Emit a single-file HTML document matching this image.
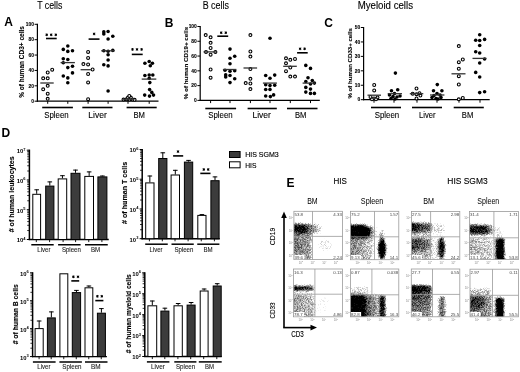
<!DOCTYPE html>
<html><head><meta charset="utf-8"><style>
html,body{margin:0;padding:0;background:#fff;}
svg{display:block;will-change:transform;}
text{font-family:"Liberation Sans", sans-serif;}
</style></head><body>
<svg width="520" height="372" viewBox="0 0 520 372">
<rect width="520" height="372" fill="#fff"/>
<text x="4.20" y="25.60" font-size="12" text-anchor="start" fill="#000" font-weight="bold" >A</text>
<text x="37.20" y="8.70" font-size="10.2" text-anchor="start" fill="#000" stroke="#000" stroke-width="0.12" textLength="25.2" lengthAdjust="spacingAndGlyphs" >T cells</text>
<line x1="37.40" y1="23.80" x2="37.40" y2="101.80" stroke="#000" stroke-width="1.2" />
<line x1="34.60" y1="24.30" x2="37.40" y2="24.30" stroke="#000" stroke-width="1.0" />
<text x="34.00" y="26.00" font-size="4.9" text-anchor="end" fill="#000" stroke="#000" stroke-width="0.1" font-weight="bold" >100</text>
<line x1="34.60" y1="39.68" x2="37.40" y2="39.68" stroke="#000" stroke-width="1.0" />
<text x="34.00" y="41.38" font-size="4.9" text-anchor="end" fill="#000" stroke="#000" stroke-width="0.1" font-weight="bold" >80</text>
<line x1="34.60" y1="55.06" x2="37.40" y2="55.06" stroke="#000" stroke-width="1.0" />
<text x="34.00" y="56.76" font-size="4.9" text-anchor="end" fill="#000" stroke="#000" stroke-width="0.1" font-weight="bold" >60</text>
<line x1="34.60" y1="70.44" x2="37.40" y2="70.44" stroke="#000" stroke-width="1.0" />
<text x="34.00" y="72.14" font-size="4.9" text-anchor="end" fill="#000" stroke="#000" stroke-width="0.1" font-weight="bold" >40</text>
<line x1="34.60" y1="85.82" x2="37.40" y2="85.82" stroke="#000" stroke-width="1.0" />
<text x="34.00" y="87.52" font-size="4.9" text-anchor="end" fill="#000" stroke="#000" stroke-width="0.1" font-weight="bold" >20</text>
<line x1="34.60" y1="101.20" x2="37.40" y2="101.20" stroke="#000" stroke-width="1.0" />
<text x="34.00" y="102.90" font-size="4.9" text-anchor="end" fill="#000" stroke="#000" stroke-width="0.1" font-weight="bold" >0</text>
<line x1="36.80" y1="101.20" x2="158.50" y2="101.20" stroke="#000" stroke-width="1.2" />
<text x="24.30" y="62.00" font-size="6.5" text-anchor="middle" fill="#000" stroke="#000" stroke-width="0.1" font-weight="bold" transform="rotate(-90 24.30 62.00)" >% of human CD3+ cells</text>
<circle cx="52.2" cy="69.7" r="1.45" fill="#fff" stroke="#000" stroke-width="1.1"/>
<circle cx="47.7" cy="72.5" r="1.45" fill="#fff" stroke="#000" stroke-width="1.1"/>
<circle cx="43.2" cy="78.3" r="1.45" fill="#fff" stroke="#000" stroke-width="1.1"/>
<circle cx="47.7" cy="78.3" r="1.45" fill="#fff" stroke="#000" stroke-width="1.1"/>
<circle cx="47.7" cy="85.8" r="1.45" fill="#fff" stroke="#000" stroke-width="1.1"/>
<circle cx="43.2" cy="89.3" r="1.45" fill="#fff" stroke="#000" stroke-width="1.1"/>
<circle cx="47.7" cy="93.7" r="1.45" fill="#fff" stroke="#000" stroke-width="1.1"/>
<circle cx="47.7" cy="98.8" r="1.45" fill="#fff" stroke="#000" stroke-width="1.1"/>
<circle cx="88.1" cy="51.9" r="1.45" fill="#fff" stroke="#000" stroke-width="1.1"/>
<circle cx="88.1" cy="57.9" r="1.45" fill="#fff" stroke="#000" stroke-width="1.1"/>
<circle cx="83.4" cy="64.1" r="1.45" fill="#fff" stroke="#000" stroke-width="1.1"/>
<circle cx="88.1" cy="64.4" r="1.45" fill="#fff" stroke="#000" stroke-width="1.1"/>
<circle cx="92.6" cy="69.5" r="1.45" fill="#fff" stroke="#000" stroke-width="1.1"/>
<circle cx="88.1" cy="74.0" r="1.45" fill="#fff" stroke="#000" stroke-width="1.1"/>
<circle cx="88.1" cy="82.4" r="1.45" fill="#fff" stroke="#000" stroke-width="1.1"/>
<circle cx="88.1" cy="99.2" r="1.45" fill="#fff" stroke="#000" stroke-width="1.1"/>
<circle cx="123.5" cy="99.6" r="1.45" fill="#fff" stroke="#000" stroke-width="1.1"/>
<circle cx="126.5" cy="99.3" r="1.45" fill="#fff" stroke="#000" stroke-width="1.1"/>
<circle cx="129.5" cy="99.6" r="1.45" fill="#fff" stroke="#000" stroke-width="1.1"/>
<circle cx="132.5" cy="99.5" r="1.45" fill="#fff" stroke="#000" stroke-width="1.1"/>
<circle cx="134.6" cy="99.8" r="1.45" fill="#fff" stroke="#000" stroke-width="1.1"/>
<circle cx="128.0" cy="97.6" r="1.45" fill="#fff" stroke="#000" stroke-width="1.1"/>
<circle cx="130.8" cy="97.6" r="1.45" fill="#fff" stroke="#000" stroke-width="1.1"/>
<circle cx="129.3" cy="95.9" r="1.45" fill="#fff" stroke="#000" stroke-width="1.1"/>
<circle cx="67.8" cy="46.0" r="1.8" fill="#000"/>
<circle cx="63.3" cy="49.4" r="1.8" fill="#000"/>
<circle cx="67.8" cy="51.4" r="1.8" fill="#000"/>
<circle cx="72.5" cy="50.8" r="1.8" fill="#000"/>
<circle cx="63.3" cy="58.8" r="1.8" fill="#000"/>
<circle cx="67.8" cy="59.5" r="1.8" fill="#000"/>
<circle cx="63.3" cy="62.8" r="1.8" fill="#000"/>
<circle cx="67.8" cy="67.6" r="1.8" fill="#000"/>
<circle cx="72.5" cy="66.2" r="1.8" fill="#000"/>
<circle cx="72.5" cy="72.9" r="1.8" fill="#000"/>
<circle cx="63.3" cy="76.0" r="1.8" fill="#000"/>
<circle cx="67.8" cy="77.9" r="1.8" fill="#000"/>
<circle cx="67.8" cy="82.7" r="1.8" fill="#000"/>
<circle cx="103.8" cy="31.9" r="1.8" fill="#000"/>
<circle cx="108.1" cy="31.5" r="1.8" fill="#000"/>
<circle cx="103.8" cy="34.0" r="1.8" fill="#000"/>
<circle cx="108.1" cy="39.0" r="1.8" fill="#000"/>
<circle cx="112.8" cy="36.2" r="1.8" fill="#000"/>
<circle cx="103.8" cy="50.8" r="1.8" fill="#000"/>
<circle cx="108.1" cy="51.2" r="1.8" fill="#000"/>
<circle cx="112.8" cy="50.4" r="1.8" fill="#000"/>
<circle cx="108.1" cy="54.7" r="1.8" fill="#000"/>
<circle cx="108.1" cy="60.0" r="1.8" fill="#000"/>
<circle cx="103.8" cy="64.8" r="1.8" fill="#000"/>
<circle cx="108.1" cy="65.9" r="1.8" fill="#000"/>
<circle cx="108.1" cy="91.0" r="1.8" fill="#000"/>
<circle cx="144.9" cy="63.2" r="1.8" fill="#000"/>
<circle cx="149.2" cy="61.5" r="1.8" fill="#000"/>
<circle cx="152.4" cy="63.2" r="1.8" fill="#000"/>
<circle cx="150.3" cy="65.8" r="1.8" fill="#000"/>
<circle cx="144.9" cy="75.5" r="1.8" fill="#000"/>
<circle cx="149.2" cy="75.0" r="1.8" fill="#000"/>
<circle cx="152.8" cy="75.0" r="1.8" fill="#000"/>
<circle cx="149.2" cy="78.3" r="1.8" fill="#000"/>
<circle cx="149.8" cy="82.6" r="1.8" fill="#000"/>
<circle cx="149.6" cy="89.6" r="1.8" fill="#000"/>
<circle cx="151.8" cy="92.4" r="1.8" fill="#000"/>
<circle cx="144.7" cy="95.1" r="1.8" fill="#000"/>
<circle cx="149.5" cy="96.1" r="1.8" fill="#000"/>
<circle cx="153.5" cy="95.1" r="1.8" fill="#000"/>
<line x1="40.30" y1="83.00" x2="53.70" y2="83.00" stroke="#333" stroke-width="1.3" />
<line x1="60.60" y1="62.60" x2="74.90" y2="62.60" stroke="#333" stroke-width="1.3" />
<line x1="80.60" y1="69.70" x2="90.90" y2="69.70" stroke="#333" stroke-width="1.3" />
<line x1="101.20" y1="50.80" x2="114.60" y2="50.80" stroke="#333" stroke-width="1.3" />
<line x1="122.50" y1="99.20" x2="134.50" y2="99.20" stroke="#333" stroke-width="1.3" />
<line x1="141.70" y1="79.10" x2="156.30" y2="79.10" stroke="#333" stroke-width="1.3" />
<path d="M46.70 33.45L46.70 36.15M45.53 34.12L47.87 35.47M47.87 34.12L45.53 35.47" stroke="#000" stroke-width="0.95" fill="none"/>
<circle cx="46.70" cy="34.80" r="0.75" fill="#000"/>
<path d="M51.20 33.45L51.20 36.15M50.03 34.12L52.37 35.47M52.37 34.12L50.03 35.47" stroke="#000" stroke-width="0.95" fill="none"/>
<circle cx="51.20" cy="34.80" r="0.75" fill="#000"/>
<path d="M55.80 33.45L55.80 36.15M54.63 34.12L56.97 35.47M56.97 34.12L54.63 35.47" stroke="#000" stroke-width="0.95" fill="none"/>
<circle cx="55.80" cy="34.80" r="0.75" fill="#000"/>
<line x1="46.00" y1="38.50" x2="56.70" y2="38.50" stroke="#000" stroke-width="1.6" />
<path d="M94.10 32.55L94.10 35.25M92.93 33.23L95.27 34.57M95.27 33.23L92.93 34.57" stroke="#000" stroke-width="0.95" fill="none"/>
<circle cx="94.10" cy="33.90" r="0.75" fill="#000"/>
<line x1="88.60" y1="39.10" x2="99.50" y2="39.10" stroke="#000" stroke-width="1.6" />
<path d="M132.50 48.05L132.50 50.75M131.33 48.73L133.67 50.07M133.67 48.73L131.33 50.07" stroke="#000" stroke-width="0.95" fill="none"/>
<circle cx="132.50" cy="49.40" r="0.75" fill="#000"/>
<path d="M137.00 48.05L137.00 50.75M135.83 48.73L138.17 50.07M138.17 48.73L135.83 50.07" stroke="#000" stroke-width="0.95" fill="none"/>
<circle cx="137.00" cy="49.40" r="0.75" fill="#000"/>
<path d="M141.60 48.05L141.60 50.75M140.43 48.73L142.77 50.07M142.77 48.73L140.43 50.07" stroke="#000" stroke-width="0.95" fill="none"/>
<circle cx="141.60" cy="49.40" r="0.75" fill="#000"/>
<line x1="131.80" y1="54.40" x2="142.70" y2="54.40" stroke="#000" stroke-width="1.6" />
<line x1="47.70" y1="101.10" x2="47.70" y2="103.80" stroke="#000" stroke-width="1.0" />
<line x1="67.80" y1="101.10" x2="67.80" y2="103.80" stroke="#000" stroke-width="1.0" />
<line x1="88.10" y1="101.10" x2="88.10" y2="103.80" stroke="#000" stroke-width="1.0" />
<line x1="108.10" y1="101.10" x2="108.10" y2="103.80" stroke="#000" stroke-width="1.0" />
<line x1="128.00" y1="101.10" x2="128.00" y2="103.80" stroke="#000" stroke-width="1.0" />
<line x1="149.20" y1="101.10" x2="149.20" y2="103.80" stroke="#000" stroke-width="1.0" />
<line x1="42.20" y1="107.50" x2="72.90" y2="107.50" stroke="#000" stroke-width="1.6" />
<line x1="82.30" y1="107.50" x2="112.50" y2="107.50" stroke="#000" stroke-width="1.6" />
<line x1="126.60" y1="107.50" x2="156.70" y2="107.50" stroke="#000" stroke-width="1.6" />
<text x="56.50" y="117.50" font-size="8.2" text-anchor="middle" fill="#000" stroke="#000" stroke-width="0.1" textLength="24.5" lengthAdjust="spacingAndGlyphs" >Spleen</text>
<text x="97.50" y="117.50" font-size="8.2" text-anchor="middle" fill="#000" stroke="#000" stroke-width="0.1" textLength="18.5" lengthAdjust="spacingAndGlyphs" >Liver</text>
<text x="139.20" y="117.50" font-size="8.2" text-anchor="middle" fill="#000" stroke="#000" stroke-width="0.1" textLength="11.5" lengthAdjust="spacingAndGlyphs" >BM</text>
<text x="164.80" y="26.70" font-size="12" text-anchor="start" fill="#000" font-weight="bold" >B</text>
<text x="202.70" y="9.00" font-size="10.2" text-anchor="start" fill="#000" stroke="#000" stroke-width="0.12" textLength="26.3" lengthAdjust="spacingAndGlyphs" >B cells</text>
<line x1="200.20" y1="26.00" x2="200.20" y2="101.00" stroke="#000" stroke-width="1.2" />
<line x1="197.40" y1="26.50" x2="200.20" y2="26.50" stroke="#000" stroke-width="1.0" />
<text x="196.80" y="28.20" font-size="4.9" text-anchor="end" fill="#000" stroke="#000" stroke-width="0.1" font-weight="bold" >100</text>
<line x1="197.40" y1="41.28" x2="200.20" y2="41.28" stroke="#000" stroke-width="1.0" />
<text x="196.80" y="42.98" font-size="4.9" text-anchor="end" fill="#000" stroke="#000" stroke-width="0.1" font-weight="bold" >80</text>
<line x1="197.40" y1="56.06" x2="200.20" y2="56.06" stroke="#000" stroke-width="1.0" />
<text x="196.80" y="57.76" font-size="4.9" text-anchor="end" fill="#000" stroke="#000" stroke-width="0.1" font-weight="bold" >60</text>
<line x1="197.40" y1="70.84" x2="200.20" y2="70.84" stroke="#000" stroke-width="1.0" />
<text x="196.80" y="72.54" font-size="4.9" text-anchor="end" fill="#000" stroke="#000" stroke-width="0.1" font-weight="bold" >40</text>
<line x1="197.40" y1="85.62" x2="200.20" y2="85.62" stroke="#000" stroke-width="1.0" />
<text x="196.80" y="87.32" font-size="4.9" text-anchor="end" fill="#000" stroke="#000" stroke-width="0.1" font-weight="bold" >20</text>
<line x1="197.40" y1="100.40" x2="200.20" y2="100.40" stroke="#000" stroke-width="1.0" />
<text x="196.80" y="102.10" font-size="4.9" text-anchor="end" fill="#000" stroke="#000" stroke-width="0.1" font-weight="bold" >0</text>
<line x1="199.60" y1="100.40" x2="319.80" y2="100.40" stroke="#000" stroke-width="1.2" />
<text x="187.80" y="63.00" font-size="6.25" text-anchor="middle" fill="#000" stroke="#000" stroke-width="0.1" font-weight="bold" transform="rotate(-90 187.80 63.00)" >% of human CD19+ cells</text>
<circle cx="205.7" cy="35.1" r="1.45" fill="#fff" stroke="#000" stroke-width="1.1"/>
<circle cx="210.6" cy="37.3" r="1.45" fill="#fff" stroke="#000" stroke-width="1.1"/>
<circle cx="210.6" cy="42.8" r="1.45" fill="#fff" stroke="#000" stroke-width="1.1"/>
<circle cx="210.6" cy="48.0" r="1.45" fill="#fff" stroke="#000" stroke-width="1.1"/>
<circle cx="215.4" cy="51.9" r="1.45" fill="#fff" stroke="#000" stroke-width="1.1"/>
<circle cx="206.0" cy="51.9" r="1.45" fill="#fff" stroke="#000" stroke-width="1.1"/>
<circle cx="210.6" cy="54.7" r="1.45" fill="#fff" stroke="#000" stroke-width="1.1"/>
<circle cx="210.6" cy="69.5" r="1.45" fill="#fff" stroke="#000" stroke-width="1.1"/>
<circle cx="210.6" cy="77.7" r="1.45" fill="#fff" stroke="#000" stroke-width="1.1"/>
<circle cx="250.4" cy="35.1" r="1.45" fill="#fff" stroke="#000" stroke-width="1.1"/>
<circle cx="250.4" cy="51.5" r="1.45" fill="#fff" stroke="#000" stroke-width="1.1"/>
<circle cx="250.4" cy="56.6" r="1.45" fill="#fff" stroke="#000" stroke-width="1.1"/>
<circle cx="250.4" cy="69.1" r="1.45" fill="#fff" stroke="#000" stroke-width="1.1"/>
<circle cx="250.4" cy="78.8" r="1.45" fill="#fff" stroke="#000" stroke-width="1.1"/>
<circle cx="245.7" cy="83.1" r="1.45" fill="#fff" stroke="#000" stroke-width="1.1"/>
<circle cx="250.4" cy="83.5" r="1.45" fill="#fff" stroke="#000" stroke-width="1.1"/>
<circle cx="250.4" cy="89.1" r="1.45" fill="#fff" stroke="#000" stroke-width="1.1"/>
<circle cx="286.0" cy="58.3" r="1.45" fill="#fff" stroke="#000" stroke-width="1.1"/>
<circle cx="290.3" cy="59.8" r="1.45" fill="#fff" stroke="#000" stroke-width="1.1"/>
<circle cx="295.0" cy="59.0" r="1.45" fill="#fff" stroke="#000" stroke-width="1.1"/>
<circle cx="286.0" cy="63.3" r="1.45" fill="#fff" stroke="#000" stroke-width="1.1"/>
<circle cx="290.3" cy="67.6" r="1.45" fill="#fff" stroke="#000" stroke-width="1.1"/>
<circle cx="286.0" cy="71.2" r="1.45" fill="#fff" stroke="#000" stroke-width="1.1"/>
<circle cx="290.3" cy="76.6" r="1.45" fill="#fff" stroke="#000" stroke-width="1.1"/>
<circle cx="295.0" cy="76.6" r="1.45" fill="#fff" stroke="#000" stroke-width="1.1"/>
<circle cx="230.0" cy="49.1" r="1.8" fill="#000"/>
<circle cx="230.0" cy="58.3" r="1.8" fill="#000"/>
<circle cx="234.7" cy="56.2" r="1.8" fill="#000"/>
<circle cx="230.0" cy="63.7" r="1.8" fill="#000"/>
<circle cx="225.0" cy="70.2" r="1.8" fill="#000"/>
<circle cx="230.0" cy="71.2" r="1.8" fill="#000"/>
<circle cx="234.7" cy="70.8" r="1.8" fill="#000"/>
<circle cx="225.7" cy="74.9" r="1.8" fill="#000"/>
<circle cx="230.0" cy="75.5" r="1.8" fill="#000"/>
<circle cx="234.7" cy="78.8" r="1.8" fill="#000"/>
<circle cx="230.0" cy="82.6" r="1.8" fill="#000"/>
<circle cx="225.7" cy="77.0" r="1.8" fill="#000"/>
<circle cx="270.0" cy="38.3" r="1.8" fill="#000"/>
<circle cx="265.7" cy="75.5" r="1.8" fill="#000"/>
<circle cx="274.7" cy="75.1" r="1.8" fill="#000"/>
<circle cx="270.0" cy="78.3" r="1.8" fill="#000"/>
<circle cx="265.7" cy="84.8" r="1.8" fill="#000"/>
<circle cx="270.0" cy="85.6" r="1.8" fill="#000"/>
<circle cx="274.7" cy="85.2" r="1.8" fill="#000"/>
<circle cx="265.7" cy="89.5" r="1.8" fill="#000"/>
<circle cx="270.0" cy="89.5" r="1.8" fill="#000"/>
<circle cx="265.7" cy="96.0" r="1.8" fill="#000"/>
<circle cx="270.4" cy="96.6" r="1.8" fill="#000"/>
<circle cx="273.6" cy="94.9" r="1.8" fill="#000"/>
<circle cx="305.8" cy="65.4" r="1.8" fill="#000"/>
<circle cx="310.5" cy="68.4" r="1.8" fill="#000"/>
<circle cx="308.0" cy="77.7" r="1.8" fill="#000"/>
<circle cx="312.3" cy="80.5" r="1.8" fill="#000"/>
<circle cx="314.4" cy="83.1" r="1.8" fill="#000"/>
<circle cx="305.8" cy="87.4" r="1.8" fill="#000"/>
<circle cx="310.5" cy="89.1" r="1.8" fill="#000"/>
<circle cx="305.8" cy="92.1" r="1.8" fill="#000"/>
<circle cx="310.5" cy="93.4" r="1.8" fill="#000"/>
<circle cx="314.4" cy="93.4" r="1.8" fill="#000"/>
<circle cx="310.5" cy="84.0" r="1.8" fill="#000"/>
<circle cx="305.8" cy="81.5" r="1.8" fill="#000"/>
<line x1="203.50" y1="51.90" x2="216.40" y2="51.90" stroke="#333" stroke-width="1.3" />
<line x1="222.90" y1="69.50" x2="236.40" y2="69.50" stroke="#333" stroke-width="1.3" />
<line x1="243.50" y1="68.00" x2="257.10" y2="68.00" stroke="#333" stroke-width="1.3" />
<line x1="262.90" y1="83.10" x2="276.90" y2="83.10" stroke="#333" stroke-width="1.3" />
<line x1="283.20" y1="66.30" x2="296.80" y2="66.30" stroke="#333" stroke-width="1.3" />
<line x1="302.60" y1="83.10" x2="315.50" y2="83.10" stroke="#333" stroke-width="1.3" />
<path d="M221.20 31.35L221.20 34.05M220.03 32.03L222.37 33.38M222.37 32.03L220.03 33.38" stroke="#000" stroke-width="0.95" fill="none"/>
<circle cx="221.20" cy="32.70" r="0.75" fill="#000"/>
<path d="M225.80 31.35L225.80 34.05M224.63 32.03L226.97 33.38M226.97 32.03L224.63 33.38" stroke="#000" stroke-width="0.95" fill="none"/>
<circle cx="225.80" cy="32.70" r="0.75" fill="#000"/>
<line x1="217.30" y1="36.20" x2="228.20" y2="36.20" stroke="#000" stroke-width="1.6" />
<path d="M300.10 47.45L300.10 50.15M298.93 48.12L301.27 49.47M301.27 48.12L298.93 49.47" stroke="#000" stroke-width="0.95" fill="none"/>
<circle cx="300.10" cy="48.80" r="0.75" fill="#000"/>
<path d="M304.60 47.45L304.60 50.15M303.43 48.12L305.77 49.47M305.77 48.12L303.43 49.47" stroke="#000" stroke-width="0.95" fill="none"/>
<circle cx="304.60" cy="48.80" r="0.75" fill="#000"/>
<line x1="297.10" y1="52.80" x2="307.70" y2="52.80" stroke="#000" stroke-width="1.6" />
<line x1="210.60" y1="100.40" x2="210.60" y2="103.10" stroke="#000" stroke-width="1.0" />
<line x1="230.00" y1="100.40" x2="230.00" y2="103.10" stroke="#000" stroke-width="1.0" />
<line x1="250.40" y1="100.40" x2="250.40" y2="103.10" stroke="#000" stroke-width="1.0" />
<line x1="270.00" y1="100.40" x2="270.00" y2="103.10" stroke="#000" stroke-width="1.0" />
<line x1="290.30" y1="100.40" x2="290.30" y2="103.10" stroke="#000" stroke-width="1.0" />
<line x1="310.50" y1="100.40" x2="310.50" y2="103.10" stroke="#000" stroke-width="1.0" />
<line x1="205.30" y1="108.50" x2="236.10" y2="108.50" stroke="#000" stroke-width="1.6" />
<line x1="247.60" y1="108.50" x2="276.80" y2="108.50" stroke="#000" stroke-width="1.6" />
<line x1="287.00" y1="108.50" x2="317.50" y2="108.50" stroke="#000" stroke-width="1.6" />
<text x="220.50" y="117.50" font-size="8.2" text-anchor="middle" fill="#000" stroke="#000" stroke-width="0.1" textLength="24.5" lengthAdjust="spacingAndGlyphs" >Spleen</text>
<text x="261.70" y="117.50" font-size="8.2" text-anchor="middle" fill="#000" stroke="#000" stroke-width="0.1" textLength="18.5" lengthAdjust="spacingAndGlyphs" >Liver</text>
<text x="300.70" y="117.50" font-size="8.2" text-anchor="middle" fill="#000" stroke="#000" stroke-width="0.1" textLength="11.5" lengthAdjust="spacingAndGlyphs" >BM</text>
<text x="324.30" y="26.60" font-size="12" text-anchor="start" fill="#000" font-weight="bold" >C</text>
<text x="357.70" y="8.80" font-size="10.0" text-anchor="start" fill="#000" stroke="#000" stroke-width="0.12" textLength="55.3" lengthAdjust="spacingAndGlyphs" >Myeloid cells</text>
<line x1="363.60" y1="27.00" x2="363.60" y2="100.30" stroke="#000" stroke-width="1.2" />
<line x1="360.80" y1="27.50" x2="363.60" y2="27.50" stroke="#000" stroke-width="1.0" />
<text x="360.20" y="29.20" font-size="4.9" text-anchor="end" fill="#000" stroke="#000" stroke-width="0.1" font-weight="bold" >50</text>
<line x1="360.80" y1="41.94" x2="363.60" y2="41.94" stroke="#000" stroke-width="1.0" />
<text x="360.20" y="43.64" font-size="4.9" text-anchor="end" fill="#000" stroke="#000" stroke-width="0.1" font-weight="bold" >40</text>
<line x1="360.80" y1="56.38" x2="363.60" y2="56.38" stroke="#000" stroke-width="1.0" />
<text x="360.20" y="58.08" font-size="4.9" text-anchor="end" fill="#000" stroke="#000" stroke-width="0.1" font-weight="bold" >30</text>
<line x1="360.80" y1="70.82" x2="363.60" y2="70.82" stroke="#000" stroke-width="1.0" />
<text x="360.20" y="72.52" font-size="4.9" text-anchor="end" fill="#000" stroke="#000" stroke-width="0.1" font-weight="bold" >20</text>
<line x1="360.80" y1="85.26" x2="363.60" y2="85.26" stroke="#000" stroke-width="1.0" />
<text x="360.20" y="86.96" font-size="4.9" text-anchor="end" fill="#000" stroke="#000" stroke-width="0.1" font-weight="bold" >10</text>
<line x1="360.80" y1="99.70" x2="363.60" y2="99.70" stroke="#000" stroke-width="1.0" />
<text x="360.20" y="101.40" font-size="4.9" text-anchor="end" fill="#000" stroke="#000" stroke-width="0.1" font-weight="bold" >0</text>
<line x1="363.00" y1="99.70" x2="489.70" y2="99.70" stroke="#000" stroke-width="1.2" />
<text x="351.70" y="63.30" font-size="6.1" text-anchor="middle" fill="#000" stroke="#000" stroke-width="0.1" font-weight="bold" transform="rotate(-90 351.70 63.30)" >% of human CD33+ cells</text>
<circle cx="374.2" cy="85.0" r="1.45" fill="#fff" stroke="#000" stroke-width="1.1"/>
<circle cx="374.2" cy="90.4" r="1.45" fill="#fff" stroke="#000" stroke-width="1.1"/>
<circle cx="370.5" cy="97.0" r="1.45" fill="#fff" stroke="#000" stroke-width="1.1"/>
<circle cx="374.0" cy="98.5" r="1.45" fill="#fff" stroke="#000" stroke-width="1.1"/>
<circle cx="377.5" cy="97.5" r="1.45" fill="#fff" stroke="#000" stroke-width="1.1"/>
<circle cx="372.0" cy="99.3" r="1.45" fill="#fff" stroke="#000" stroke-width="1.1"/>
<circle cx="376.0" cy="99.3" r="1.45" fill="#fff" stroke="#000" stroke-width="1.1"/>
<circle cx="416.5" cy="88.5" r="1.45" fill="#fff" stroke="#000" stroke-width="1.1"/>
<circle cx="412.7" cy="93.7" r="1.45" fill="#fff" stroke="#000" stroke-width="1.1"/>
<circle cx="416.5" cy="94.2" r="1.45" fill="#fff" stroke="#000" stroke-width="1.1"/>
<circle cx="420.4" cy="95.6" r="1.45" fill="#fff" stroke="#000" stroke-width="1.1"/>
<circle cx="416.5" cy="98.5" r="1.45" fill="#fff" stroke="#000" stroke-width="1.1"/>
<circle cx="419.5" cy="93.2" r="1.45" fill="#fff" stroke="#000" stroke-width="1.1"/>
<circle cx="458.8" cy="46.1" r="1.45" fill="#fff" stroke="#000" stroke-width="1.1"/>
<circle cx="462.8" cy="59.5" r="1.45" fill="#fff" stroke="#000" stroke-width="1.1"/>
<circle cx="458.8" cy="62.2" r="1.45" fill="#fff" stroke="#000" stroke-width="1.1"/>
<circle cx="458.8" cy="68.7" r="1.45" fill="#fff" stroke="#000" stroke-width="1.1"/>
<circle cx="458.8" cy="76.2" r="1.45" fill="#fff" stroke="#000" stroke-width="1.1"/>
<circle cx="458.8" cy="84.5" r="1.45" fill="#fff" stroke="#000" stroke-width="1.1"/>
<circle cx="462.8" cy="98.0" r="1.45" fill="#fff" stroke="#000" stroke-width="1.1"/>
<circle cx="458.8" cy="99.3" r="1.45" fill="#fff" stroke="#000" stroke-width="1.1"/>
<circle cx="395.4" cy="73.1" r="1.8" fill="#000"/>
<circle cx="391.5" cy="90.8" r="1.8" fill="#000"/>
<circle cx="397.7" cy="89.8" r="1.8" fill="#000"/>
<circle cx="394.5" cy="93.5" r="1.8" fill="#000"/>
<circle cx="389.5" cy="95.0" r="1.8" fill="#000"/>
<circle cx="393.0" cy="96.5" r="1.8" fill="#000"/>
<circle cx="397.0" cy="97.0" r="1.8" fill="#000"/>
<circle cx="400.0" cy="96.0" r="1.8" fill="#000"/>
<circle cx="391.0" cy="98.5" r="1.8" fill="#000"/>
<circle cx="395.0" cy="99.0" r="1.8" fill="#000"/>
<circle cx="437.3" cy="84.6" r="1.8" fill="#000"/>
<circle cx="433.5" cy="90.8" r="1.8" fill="#000"/>
<circle cx="441.9" cy="90.8" r="1.8" fill="#000"/>
<circle cx="437.0" cy="93.5" r="1.8" fill="#000"/>
<circle cx="434.0" cy="95.5" r="1.8" fill="#000"/>
<circle cx="440.0" cy="95.0" r="1.8" fill="#000"/>
<circle cx="432.0" cy="97.5" r="1.8" fill="#000"/>
<circle cx="436.0" cy="98.5" r="1.8" fill="#000"/>
<circle cx="441.0" cy="97.5" r="1.8" fill="#000"/>
<circle cx="438.0" cy="99.0" r="1.8" fill="#000"/>
<circle cx="479.7" cy="34.8" r="1.8" fill="#000"/>
<circle cx="475.7" cy="40.2" r="1.8" fill="#000"/>
<circle cx="479.7" cy="40.5" r="1.8" fill="#000"/>
<circle cx="484.6" cy="39.4" r="1.8" fill="#000"/>
<circle cx="479.7" cy="45.5" r="1.8" fill="#000"/>
<circle cx="475.7" cy="51.7" r="1.8" fill="#000"/>
<circle cx="479.7" cy="53.0" r="1.8" fill="#000"/>
<circle cx="484.6" cy="59.0" r="1.8" fill="#000"/>
<circle cx="479.7" cy="63.0" r="1.8" fill="#000"/>
<circle cx="475.7" cy="72.4" r="1.8" fill="#000"/>
<circle cx="479.7" cy="77.0" r="1.8" fill="#000"/>
<circle cx="479.7" cy="92.6" r="1.8" fill="#000"/>
<circle cx="484.6" cy="91.8" r="1.8" fill="#000"/>
<line x1="367.50" y1="95.20" x2="381.00" y2="95.20" stroke="#333" stroke-width="1.3" />
<line x1="387.70" y1="93.70" x2="402.00" y2="93.70" stroke="#333" stroke-width="1.3" />
<line x1="409.80" y1="93.70" x2="423.30" y2="93.70" stroke="#333" stroke-width="1.3" />
<line x1="430.00" y1="95.00" x2="444.40" y2="95.00" stroke="#333" stroke-width="1.3" />
<line x1="451.50" y1="73.80" x2="465.50" y2="73.80" stroke="#333" stroke-width="1.3" />
<line x1="472.50" y1="58.40" x2="486.50" y2="58.40" stroke="#333" stroke-width="1.3" />
<line x1="374.00" y1="100.00" x2="374.00" y2="102.70" stroke="#000" stroke-width="1.0" />
<line x1="394.00" y1="100.00" x2="394.00" y2="102.70" stroke="#000" stroke-width="1.0" />
<line x1="417.00" y1="100.00" x2="417.00" y2="102.70" stroke="#000" stroke-width="1.0" />
<line x1="437.00" y1="100.00" x2="437.00" y2="102.70" stroke="#000" stroke-width="1.0" />
<line x1="459.00" y1="100.00" x2="459.00" y2="102.70" stroke="#000" stroke-width="1.0" />
<line x1="480.00" y1="100.00" x2="480.00" y2="102.70" stroke="#000" stroke-width="1.0" />
<line x1="371.00" y1="107.50" x2="401.00" y2="107.50" stroke="#000" stroke-width="1.6" />
<line x1="412.00" y1="107.50" x2="442.00" y2="107.50" stroke="#000" stroke-width="1.6" />
<line x1="453.70" y1="107.50" x2="483.80" y2="107.50" stroke="#000" stroke-width="1.6" />
<text x="387.00" y="117.50" font-size="8.2" text-anchor="middle" fill="#000" stroke="#000" stroke-width="0.1" textLength="24.5" lengthAdjust="spacingAndGlyphs" >Spleen</text>
<text x="427.30" y="117.50" font-size="8.2" text-anchor="middle" fill="#000" stroke="#000" stroke-width="0.1" textLength="16.5" lengthAdjust="spacingAndGlyphs" >Liver</text>
<text x="467.60" y="117.50" font-size="8.2" text-anchor="middle" fill="#000" stroke="#000" stroke-width="0.1" textLength="11.5" lengthAdjust="spacingAndGlyphs" >BM</text>
<text x="1.40" y="137.00" font-size="12" text-anchor="start" fill="#000" font-weight="bold" >D</text>
<line x1="29.40" y1="149.60" x2="29.40" y2="240.10" stroke="#000" stroke-width="1.5" />
<line x1="27.20" y1="171.01" x2="29.40" y2="171.01" stroke="#000" stroke-width="0.8" />
<line x1="27.20" y1="165.76" x2="29.40" y2="165.76" stroke="#000" stroke-width="0.8" />
<line x1="27.20" y1="162.05" x2="29.40" y2="162.05" stroke="#000" stroke-width="0.8" />
<line x1="27.20" y1="159.16" x2="29.40" y2="159.16" stroke="#000" stroke-width="0.8" />
<line x1="27.20" y1="156.80" x2="29.40" y2="156.80" stroke="#000" stroke-width="0.8" />
<line x1="27.20" y1="154.81" x2="29.40" y2="154.81" stroke="#000" stroke-width="0.8" />
<line x1="27.20" y1="153.08" x2="29.40" y2="153.08" stroke="#000" stroke-width="0.8" />
<line x1="27.20" y1="151.56" x2="29.40" y2="151.56" stroke="#000" stroke-width="0.8" />
<line x1="27.20" y1="200.77" x2="29.40" y2="200.77" stroke="#000" stroke-width="0.8" />
<line x1="27.20" y1="195.53" x2="29.40" y2="195.53" stroke="#000" stroke-width="0.8" />
<line x1="27.20" y1="191.81" x2="29.40" y2="191.81" stroke="#000" stroke-width="0.8" />
<line x1="27.20" y1="188.93" x2="29.40" y2="188.93" stroke="#000" stroke-width="0.8" />
<line x1="27.20" y1="186.57" x2="29.40" y2="186.57" stroke="#000" stroke-width="0.8" />
<line x1="27.20" y1="184.58" x2="29.40" y2="184.58" stroke="#000" stroke-width="0.8" />
<line x1="27.20" y1="182.85" x2="29.40" y2="182.85" stroke="#000" stroke-width="0.8" />
<line x1="27.20" y1="181.33" x2="29.40" y2="181.33" stroke="#000" stroke-width="0.8" />
<line x1="27.20" y1="230.54" x2="29.40" y2="230.54" stroke="#000" stroke-width="0.8" />
<line x1="27.20" y1="225.30" x2="29.40" y2="225.30" stroke="#000" stroke-width="0.8" />
<line x1="27.20" y1="221.58" x2="29.40" y2="221.58" stroke="#000" stroke-width="0.8" />
<line x1="27.20" y1="218.69" x2="29.40" y2="218.69" stroke="#000" stroke-width="0.8" />
<line x1="27.20" y1="216.34" x2="29.40" y2="216.34" stroke="#000" stroke-width="0.8" />
<line x1="27.20" y1="214.34" x2="29.40" y2="214.34" stroke="#000" stroke-width="0.8" />
<line x1="27.20" y1="212.62" x2="29.40" y2="212.62" stroke="#000" stroke-width="0.8" />
<line x1="27.20" y1="211.10" x2="29.40" y2="211.10" stroke="#000" stroke-width="0.8" />
<line x1="26.80" y1="150.20" x2="29.40" y2="150.20" stroke="#000" stroke-width="1.0" />
<text x="25.60" y="153.10" font-size="5.9" text-anchor="end" fill="#000" font-weight="bold" >10<tspan font-size="4.0" dy="-2.4">7</tspan></text>
<line x1="26.80" y1="179.97" x2="29.40" y2="179.97" stroke="#000" stroke-width="1.0" />
<text x="25.60" y="182.87" font-size="5.9" text-anchor="end" fill="#000" font-weight="bold" >10<tspan font-size="4.0" dy="-2.4">6</tspan></text>
<line x1="26.80" y1="209.73" x2="29.40" y2="209.73" stroke="#000" stroke-width="1.0" />
<text x="25.60" y="212.63" font-size="5.9" text-anchor="end" fill="#000" font-weight="bold" >10<tspan font-size="4.0" dy="-2.4">5</tspan></text>
<line x1="26.80" y1="239.50" x2="29.40" y2="239.50" stroke="#000" stroke-width="1.0" />
<text x="25.60" y="242.40" font-size="5.9" text-anchor="end" fill="#000" font-weight="bold" >10<tspan font-size="4.0" dy="-2.4">4</tspan></text>
<line x1="28.70" y1="239.50" x2="108.75" y2="239.50" stroke="#000" stroke-width="1.4" />
<line x1="36.70" y1="189.40" x2="36.70" y2="193.80" stroke="#000" stroke-width="1.0" />
<line x1="34.40" y1="189.80" x2="39.00" y2="189.80" stroke="#000" stroke-width="1.0" />
<rect x="32.80" y="194.30" width="7.80" height="45.20" fill="#fff" stroke="#000" stroke-width="1.0" />
<line x1="49.80" y1="181.50" x2="49.80" y2="185.60" stroke="#000" stroke-width="1.0" />
<line x1="47.50" y1="181.90" x2="52.10" y2="181.90" stroke="#000" stroke-width="1.0" />
<rect x="45.70" y="186.10" width="8.20" height="53.40" fill="#3c3c3c" stroke="#000" stroke-width="1.0" />
<line x1="62.45" y1="175.30" x2="62.45" y2="178.40" stroke="#000" stroke-width="1.0" />
<line x1="60.15" y1="175.70" x2="64.75" y2="175.70" stroke="#000" stroke-width="1.0" />
<rect x="58.20" y="178.90" width="8.50" height="60.60" fill="#fff" stroke="#000" stroke-width="1.0" />
<line x1="75.50" y1="169.70" x2="75.50" y2="172.80" stroke="#000" stroke-width="1.0" />
<line x1="73.20" y1="170.10" x2="77.80" y2="170.10" stroke="#000" stroke-width="1.0" />
<rect x="71.00" y="173.30" width="9.00" height="66.20" fill="#3c3c3c" stroke="#000" stroke-width="1.0" />
<line x1="89.15" y1="171.50" x2="89.15" y2="175.90" stroke="#000" stroke-width="1.0" />
<line x1="86.85" y1="171.90" x2="91.45" y2="171.90" stroke="#000" stroke-width="1.0" />
<rect x="84.80" y="176.40" width="8.70" height="63.10" fill="#fff" stroke="#000" stroke-width="1.0" />
<line x1="102.40" y1="175.60" x2="102.40" y2="176.40" stroke="#000" stroke-width="1.0" />
<line x1="100.10" y1="176.00" x2="104.70" y2="176.00" stroke="#000" stroke-width="1.0" />
<rect x="97.90" y="176.90" width="9.00" height="62.60" fill="#3c3c3c" stroke="#000" stroke-width="1.0" />
<line x1="36.30" y1="239.50" x2="36.30" y2="242.10" stroke="#000" stroke-width="0.9" />
<line x1="49.60" y1="239.50" x2="49.60" y2="242.10" stroke="#000" stroke-width="0.9" />
<line x1="63.10" y1="239.50" x2="63.10" y2="242.10" stroke="#000" stroke-width="0.9" />
<line x1="75.60" y1="239.50" x2="75.60" y2="242.10" stroke="#000" stroke-width="0.9" />
<line x1="88.75" y1="239.50" x2="88.75" y2="242.10" stroke="#000" stroke-width="0.9" />
<line x1="101.90" y1="239.50" x2="101.90" y2="242.10" stroke="#000" stroke-width="0.9" />
<text x="14.20" y="194.30" font-size="7.1" text-anchor="middle" fill="#000" stroke="#000" stroke-width="0.12" font-weight="bold" textLength="76" lengthAdjust="spacingAndGlyphs" transform="rotate(-90 14.20 194.30)" ># of human leukocytes</text>
<line x1="31.30" y1="244.75" x2="53.70" y2="244.75" stroke="#000" stroke-width="1.5" />
<line x1="58.10" y1="244.75" x2="80.60" y2="244.75" stroke="#000" stroke-width="1.5" />
<line x1="85.00" y1="244.75" x2="107.75" y2="244.75" stroke="#000" stroke-width="1.5" />
<text x="43.85" y="251.60" font-size="6.8" text-anchor="middle" fill="#222" stroke="#222" stroke-width="0.1" textLength="13.1" lengthAdjust="spacingAndGlyphs" >Liver</text>
<text x="71.38" y="251.60" font-size="6.8" text-anchor="middle" fill="#222" stroke="#222" stroke-width="0.1" textLength="18.95" lengthAdjust="spacingAndGlyphs" >Spleen</text>
<text x="95.60" y="251.60" font-size="6.8" text-anchor="middle" fill="#222" stroke="#222" stroke-width="0.1" textLength="9.2" lengthAdjust="spacingAndGlyphs" >BM</text>
<line x1="142.20" y1="148.90" x2="142.20" y2="239.30" stroke="#000" stroke-width="1.5" />
<line x1="140.00" y1="170.28" x2="142.20" y2="170.28" stroke="#000" stroke-width="0.8" />
<line x1="140.00" y1="165.05" x2="142.20" y2="165.05" stroke="#000" stroke-width="0.8" />
<line x1="140.00" y1="161.33" x2="142.20" y2="161.33" stroke="#000" stroke-width="0.8" />
<line x1="140.00" y1="158.45" x2="142.20" y2="158.45" stroke="#000" stroke-width="0.8" />
<line x1="140.00" y1="156.10" x2="142.20" y2="156.10" stroke="#000" stroke-width="0.8" />
<line x1="140.00" y1="154.11" x2="142.20" y2="154.11" stroke="#000" stroke-width="0.8" />
<line x1="140.00" y1="152.38" x2="142.20" y2="152.38" stroke="#000" stroke-width="0.8" />
<line x1="140.00" y1="150.86" x2="142.20" y2="150.86" stroke="#000" stroke-width="0.8" />
<line x1="140.00" y1="200.02" x2="142.20" y2="200.02" stroke="#000" stroke-width="0.8" />
<line x1="140.00" y1="194.78" x2="142.20" y2="194.78" stroke="#000" stroke-width="0.8" />
<line x1="140.00" y1="191.07" x2="142.20" y2="191.07" stroke="#000" stroke-width="0.8" />
<line x1="140.00" y1="188.18" x2="142.20" y2="188.18" stroke="#000" stroke-width="0.8" />
<line x1="140.00" y1="185.83" x2="142.20" y2="185.83" stroke="#000" stroke-width="0.8" />
<line x1="140.00" y1="183.84" x2="142.20" y2="183.84" stroke="#000" stroke-width="0.8" />
<line x1="140.00" y1="182.11" x2="142.20" y2="182.11" stroke="#000" stroke-width="0.8" />
<line x1="140.00" y1="180.59" x2="142.20" y2="180.59" stroke="#000" stroke-width="0.8" />
<line x1="140.00" y1="229.75" x2="142.20" y2="229.75" stroke="#000" stroke-width="0.8" />
<line x1="140.00" y1="224.51" x2="142.20" y2="224.51" stroke="#000" stroke-width="0.8" />
<line x1="140.00" y1="220.80" x2="142.20" y2="220.80" stroke="#000" stroke-width="0.8" />
<line x1="140.00" y1="217.92" x2="142.20" y2="217.92" stroke="#000" stroke-width="0.8" />
<line x1="140.00" y1="215.56" x2="142.20" y2="215.56" stroke="#000" stroke-width="0.8" />
<line x1="140.00" y1="213.57" x2="142.20" y2="213.57" stroke="#000" stroke-width="0.8" />
<line x1="140.00" y1="211.85" x2="142.20" y2="211.85" stroke="#000" stroke-width="0.8" />
<line x1="140.00" y1="210.33" x2="142.20" y2="210.33" stroke="#000" stroke-width="0.8" />
<line x1="139.60" y1="149.50" x2="142.20" y2="149.50" stroke="#000" stroke-width="1.0" />
<text x="138.40" y="152.40" font-size="5.9" text-anchor="end" fill="#000" font-weight="bold" >10<tspan font-size="4.0" dy="-2.4">6</tspan></text>
<line x1="139.60" y1="179.23" x2="142.20" y2="179.23" stroke="#000" stroke-width="1.0" />
<text x="138.40" y="182.13" font-size="5.9" text-anchor="end" fill="#000" font-weight="bold" >10<tspan font-size="4.0" dy="-2.4">5</tspan></text>
<line x1="139.60" y1="208.97" x2="142.20" y2="208.97" stroke="#000" stroke-width="1.0" />
<text x="138.40" y="211.87" font-size="5.9" text-anchor="end" fill="#000" font-weight="bold" >10<tspan font-size="4.0" dy="-2.4">4</tspan></text>
<line x1="139.60" y1="238.70" x2="142.20" y2="238.70" stroke="#000" stroke-width="1.0" />
<text x="138.40" y="241.60" font-size="5.9" text-anchor="end" fill="#000" font-weight="bold" >10<tspan font-size="4.0" dy="-2.4">3</tspan></text>
<line x1="141.50" y1="238.70" x2="219.75" y2="238.70" stroke="#000" stroke-width="1.4" />
<line x1="149.85" y1="175.60" x2="149.85" y2="182.40" stroke="#000" stroke-width="1.0" />
<line x1="147.55" y1="176.00" x2="152.15" y2="176.00" stroke="#000" stroke-width="1.0" />
<rect x="145.70" y="182.90" width="8.30" height="55.80" fill="#fff" stroke="#000" stroke-width="1.0" />
<line x1="162.80" y1="152.40" x2="162.80" y2="158.00" stroke="#000" stroke-width="1.0" />
<line x1="160.50" y1="152.80" x2="165.10" y2="152.80" stroke="#000" stroke-width="1.0" />
<rect x="158.70" y="158.50" width="8.20" height="80.20" fill="#3c3c3c" stroke="#000" stroke-width="1.0" />
<line x1="175.30" y1="169.90" x2="175.30" y2="174.50" stroke="#000" stroke-width="1.0" />
<line x1="173.00" y1="170.30" x2="177.60" y2="170.30" stroke="#000" stroke-width="1.0" />
<rect x="171.10" y="175.00" width="8.40" height="63.70" fill="#fff" stroke="#000" stroke-width="1.0" />
<line x1="188.55" y1="160.00" x2="188.55" y2="161.60" stroke="#000" stroke-width="1.0" />
<line x1="186.25" y1="160.40" x2="190.85" y2="160.40" stroke="#000" stroke-width="1.0" />
<rect x="184.40" y="162.10" width="8.30" height="76.60" fill="#3c3c3c" stroke="#000" stroke-width="1.0" />
<line x1="201.90" y1="214.20" x2="201.90" y2="214.90" stroke="#000" stroke-width="1.0" />
<line x1="199.60" y1="214.60" x2="204.20" y2="214.60" stroke="#000" stroke-width="1.0" />
<rect x="197.80" y="215.40" width="8.20" height="23.30" fill="#fff" stroke="#000" stroke-width="1.0" />
<line x1="215.00" y1="176.50" x2="215.00" y2="180.20" stroke="#000" stroke-width="1.0" />
<line x1="212.70" y1="176.90" x2="217.30" y2="176.90" stroke="#000" stroke-width="1.0" />
<rect x="210.90" y="180.70" width="8.20" height="58.00" fill="#3c3c3c" stroke="#000" stroke-width="1.0" />
<line x1="149.40" y1="238.70" x2="149.40" y2="241.30" stroke="#000" stroke-width="0.9" />
<line x1="162.30" y1="238.70" x2="162.30" y2="241.30" stroke="#000" stroke-width="0.9" />
<line x1="175.00" y1="238.70" x2="175.00" y2="241.30" stroke="#000" stroke-width="0.9" />
<line x1="188.10" y1="238.70" x2="188.10" y2="241.30" stroke="#000" stroke-width="0.9" />
<line x1="201.25" y1="238.70" x2="201.25" y2="241.30" stroke="#000" stroke-width="0.9" />
<line x1="214.40" y1="238.70" x2="214.40" y2="241.30" stroke="#000" stroke-width="0.9" />
<text x="126.60" y="192.90" font-size="7.2" text-anchor="middle" fill="#000" stroke="#000" stroke-width="0.12" font-weight="bold" textLength="62" lengthAdjust="spacingAndGlyphs" transform="rotate(-90 126.60 192.90)" ># of human T cells</text>
<line x1="145.20" y1="244.20" x2="167.75" y2="244.20" stroke="#000" stroke-width="1.5" />
<line x1="171.50" y1="244.20" x2="193.75" y2="244.20" stroke="#000" stroke-width="1.5" />
<line x1="197.25" y1="244.20" x2="219.40" y2="244.20" stroke="#000" stroke-width="1.5" />
<text x="156.05" y="251.60" font-size="6.8" text-anchor="middle" fill="#222" stroke="#222" stroke-width="0.1" textLength="12.9" lengthAdjust="spacingAndGlyphs" >Liver</text>
<text x="183.88" y="251.60" font-size="6.8" text-anchor="middle" fill="#222" stroke="#222" stroke-width="0.1" textLength="18.95" lengthAdjust="spacingAndGlyphs" >Spleen</text>
<text x="208.10" y="251.60" font-size="6.8" text-anchor="middle" fill="#222" stroke="#222" stroke-width="0.1" textLength="9.2" lengthAdjust="spacingAndGlyphs" >BM</text>
<path d="M178.00 150.25L178.00 152.95M176.83 150.92L179.17 152.28M179.17 150.92L176.83 152.28" stroke="#000" stroke-width="0.95" fill="none"/>
<circle cx="178.00" cy="151.60" r="0.75" fill="#000"/>
<line x1="173.10" y1="155.90" x2="183.20" y2="155.90" stroke="#000" stroke-width="1.6" />
<path d="M203.80 168.15L203.80 170.85M202.63 168.82L204.97 170.18M204.97 168.82L202.63 170.18" stroke="#000" stroke-width="0.95" fill="none"/>
<circle cx="203.80" cy="169.50" r="0.75" fill="#000"/>
<path d="M208.20 168.15L208.20 170.85M207.03 168.82L209.37 170.18M209.37 168.82L207.03 170.18" stroke="#000" stroke-width="0.95" fill="none"/>
<circle cx="208.20" cy="169.50" r="0.75" fill="#000"/>
<line x1="200.30" y1="173.40" x2="210.50" y2="173.40" stroke="#000" stroke-width="1.6" />
<line x1="32.60" y1="272.20" x2="32.60" y2="357.20" stroke="#000" stroke-width="1.5" />
<line x1="30.40" y1="292.32" x2="32.60" y2="292.32" stroke="#000" stroke-width="0.8" />
<line x1="30.40" y1="287.41" x2="32.60" y2="287.41" stroke="#000" stroke-width="0.8" />
<line x1="30.40" y1="283.92" x2="32.60" y2="283.92" stroke="#000" stroke-width="0.8" />
<line x1="30.40" y1="281.21" x2="32.60" y2="281.21" stroke="#000" stroke-width="0.8" />
<line x1="30.40" y1="279.00" x2="32.60" y2="279.00" stroke="#000" stroke-width="0.8" />
<line x1="30.40" y1="277.13" x2="32.60" y2="277.13" stroke="#000" stroke-width="0.8" />
<line x1="30.40" y1="275.51" x2="32.60" y2="275.51" stroke="#000" stroke-width="0.8" />
<line x1="30.40" y1="274.08" x2="32.60" y2="274.08" stroke="#000" stroke-width="0.8" />
<line x1="30.40" y1="320.26" x2="32.60" y2="320.26" stroke="#000" stroke-width="0.8" />
<line x1="30.40" y1="315.34" x2="32.60" y2="315.34" stroke="#000" stroke-width="0.8" />
<line x1="30.40" y1="311.85" x2="32.60" y2="311.85" stroke="#000" stroke-width="0.8" />
<line x1="30.40" y1="309.14" x2="32.60" y2="309.14" stroke="#000" stroke-width="0.8" />
<line x1="30.40" y1="306.93" x2="32.60" y2="306.93" stroke="#000" stroke-width="0.8" />
<line x1="30.40" y1="305.06" x2="32.60" y2="305.06" stroke="#000" stroke-width="0.8" />
<line x1="30.40" y1="303.44" x2="32.60" y2="303.44" stroke="#000" stroke-width="0.8" />
<line x1="30.40" y1="302.01" x2="32.60" y2="302.01" stroke="#000" stroke-width="0.8" />
<line x1="30.40" y1="348.19" x2="32.60" y2="348.19" stroke="#000" stroke-width="0.8" />
<line x1="30.40" y1="343.27" x2="32.60" y2="343.27" stroke="#000" stroke-width="0.8" />
<line x1="30.40" y1="339.78" x2="32.60" y2="339.78" stroke="#000" stroke-width="0.8" />
<line x1="30.40" y1="337.08" x2="32.60" y2="337.08" stroke="#000" stroke-width="0.8" />
<line x1="30.40" y1="334.86" x2="32.60" y2="334.86" stroke="#000" stroke-width="0.8" />
<line x1="30.40" y1="332.99" x2="32.60" y2="332.99" stroke="#000" stroke-width="0.8" />
<line x1="30.40" y1="331.37" x2="32.60" y2="331.37" stroke="#000" stroke-width="0.8" />
<line x1="30.40" y1="329.94" x2="32.60" y2="329.94" stroke="#000" stroke-width="0.8" />
<line x1="30.00" y1="272.80" x2="32.60" y2="272.80" stroke="#000" stroke-width="1.0" />
<text x="28.80" y="275.70" font-size="5.9" text-anchor="end" fill="#000" font-weight="bold" >10<tspan font-size="4.0" dy="-2.4">6</tspan></text>
<line x1="30.00" y1="300.73" x2="32.60" y2="300.73" stroke="#000" stroke-width="1.0" />
<text x="28.80" y="303.63" font-size="5.9" text-anchor="end" fill="#000" font-weight="bold" >10<tspan font-size="4.0" dy="-2.4">5</tspan></text>
<line x1="30.00" y1="328.67" x2="32.60" y2="328.67" stroke="#000" stroke-width="1.0" />
<text x="28.80" y="331.57" font-size="5.9" text-anchor="end" fill="#000" font-weight="bold" >10<tspan font-size="4.0" dy="-2.4">4</tspan></text>
<line x1="30.00" y1="356.60" x2="32.60" y2="356.60" stroke="#000" stroke-width="1.0" />
<text x="28.80" y="359.50" font-size="5.9" text-anchor="end" fill="#000" font-weight="bold" >10<tspan font-size="4.0" dy="-2.4">3</tspan></text>
<line x1="31.90" y1="356.60" x2="106.90" y2="356.60" stroke="#000" stroke-width="1.4" />
<line x1="39.15" y1="320.60" x2="39.15" y2="328.10" stroke="#000" stroke-width="1.0" />
<line x1="36.85" y1="321.00" x2="41.45" y2="321.00" stroke="#000" stroke-width="1.0" />
<rect x="35.10" y="328.60" width="8.10" height="28.00" fill="#fff" stroke="#000" stroke-width="1.0" />
<line x1="51.35" y1="311.50" x2="51.35" y2="317.40" stroke="#000" stroke-width="1.0" />
<line x1="49.05" y1="311.90" x2="53.65" y2="311.90" stroke="#000" stroke-width="1.0" />
<rect x="47.40" y="317.90" width="7.90" height="38.70" fill="#3c3c3c" stroke="#000" stroke-width="1.0" />
<rect x="59.90" y="273.80" width="7.90" height="82.80" fill="#fff" stroke="#000" stroke-width="1.0" />
<line x1="76.45" y1="290.00" x2="76.45" y2="292.10" stroke="#000" stroke-width="1.0" />
<line x1="74.15" y1="290.40" x2="78.75" y2="290.40" stroke="#000" stroke-width="1.0" />
<rect x="72.30" y="292.60" width="8.30" height="64.00" fill="#3c3c3c" stroke="#000" stroke-width="1.0" />
<line x1="88.90" y1="285.60" x2="88.90" y2="287.30" stroke="#000" stroke-width="1.0" />
<line x1="86.60" y1="286.00" x2="91.20" y2="286.00" stroke="#000" stroke-width="1.0" />
<rect x="85.00" y="287.80" width="7.80" height="68.80" fill="#fff" stroke="#000" stroke-width="1.0" />
<line x1="101.40" y1="308.20" x2="101.40" y2="312.70" stroke="#000" stroke-width="1.0" />
<line x1="99.10" y1="308.60" x2="103.70" y2="308.60" stroke="#000" stroke-width="1.0" />
<rect x="97.40" y="313.20" width="8.00" height="43.40" fill="#3c3c3c" stroke="#000" stroke-width="1.0" />
<line x1="39.10" y1="356.60" x2="39.10" y2="359.20" stroke="#000" stroke-width="0.9" />
<line x1="51.20" y1="356.60" x2="51.20" y2="359.20" stroke="#000" stroke-width="0.9" />
<line x1="63.75" y1="356.60" x2="63.75" y2="359.20" stroke="#000" stroke-width="0.9" />
<line x1="76.25" y1="356.60" x2="76.25" y2="359.20" stroke="#000" stroke-width="0.9" />
<line x1="88.75" y1="356.60" x2="88.75" y2="359.20" stroke="#000" stroke-width="0.9" />
<line x1="101.25" y1="356.60" x2="101.25" y2="359.20" stroke="#000" stroke-width="0.9" />
<text x="18.00" y="314.30" font-size="6.9" text-anchor="middle" fill="#000" stroke="#000" stroke-width="0.12" font-weight="bold" textLength="60" lengthAdjust="spacingAndGlyphs" transform="rotate(-90 18.00 314.30)" ># of human B cells</text>
<line x1="32.90" y1="362.00" x2="55.60" y2="362.00" stroke="#000" stroke-width="1.5" />
<line x1="59.40" y1="362.00" x2="81.90" y2="362.00" stroke="#000" stroke-width="1.5" />
<line x1="85.00" y1="362.00" x2="107.50" y2="362.00" stroke="#000" stroke-width="1.5" />
<text x="43.85" y="369.30" font-size="6.8" text-anchor="middle" fill="#222" stroke="#222" stroke-width="0.1" textLength="13.1" lengthAdjust="spacingAndGlyphs" >Liver</text>
<text x="71.90" y="369.30" font-size="6.8" text-anchor="middle" fill="#222" stroke="#222" stroke-width="0.1" textLength="19.2" lengthAdjust="spacingAndGlyphs" >Spleen</text>
<text x="95.80" y="369.30" font-size="6.8" text-anchor="middle" fill="#222" stroke="#222" stroke-width="0.1" textLength="9.6" lengthAdjust="spacingAndGlyphs" >BM</text>
<path d="M73.40 275.45L73.40 278.15M72.23 276.12L74.57 277.48M74.57 276.12L72.23 277.48" stroke="#000" stroke-width="0.95" fill="none"/>
<circle cx="73.40" cy="276.80" r="0.75" fill="#000"/>
<path d="M78.00 275.45L78.00 278.15M76.83 276.12L79.17 277.48M79.17 276.12L76.83 277.48" stroke="#000" stroke-width="0.95" fill="none"/>
<circle cx="78.00" cy="276.80" r="0.75" fill="#000"/>
<line x1="71.30" y1="280.90" x2="79.20" y2="280.90" stroke="#000" stroke-width="1.6" />
<path d="M97.40 294.95L97.40 297.65M96.23 295.62L98.57 296.98M98.57 295.62L96.23 296.98" stroke="#000" stroke-width="0.95" fill="none"/>
<circle cx="97.40" cy="296.30" r="0.75" fill="#000"/>
<path d="M101.80 294.95L101.80 297.65M100.63 295.62L102.97 296.98M102.97 295.62L100.63 296.98" stroke="#000" stroke-width="0.95" fill="none"/>
<circle cx="101.80" cy="296.30" r="0.75" fill="#000"/>
<line x1="95.30" y1="300.60" x2="103.40" y2="300.60" stroke="#000" stroke-width="1.6" />
<line x1="144.80" y1="272.20" x2="144.80" y2="357.10" stroke="#000" stroke-width="1.5" />
<line x1="142.60" y1="287.43" x2="144.80" y2="287.43" stroke="#000" stroke-width="0.8" />
<line x1="142.60" y1="283.74" x2="144.80" y2="283.74" stroke="#000" stroke-width="0.8" />
<line x1="142.60" y1="281.13" x2="144.80" y2="281.13" stroke="#000" stroke-width="0.8" />
<line x1="142.60" y1="279.10" x2="144.80" y2="279.10" stroke="#000" stroke-width="0.8" />
<line x1="142.60" y1="277.44" x2="144.80" y2="277.44" stroke="#000" stroke-width="0.8" />
<line x1="142.60" y1="276.04" x2="144.80" y2="276.04" stroke="#000" stroke-width="0.8" />
<line x1="142.60" y1="274.83" x2="144.80" y2="274.83" stroke="#000" stroke-width="0.8" />
<line x1="142.60" y1="273.76" x2="144.80" y2="273.76" stroke="#000" stroke-width="0.8" />
<line x1="142.60" y1="308.35" x2="144.80" y2="308.35" stroke="#000" stroke-width="0.8" />
<line x1="142.60" y1="304.67" x2="144.80" y2="304.67" stroke="#000" stroke-width="0.8" />
<line x1="142.60" y1="302.05" x2="144.80" y2="302.05" stroke="#000" stroke-width="0.8" />
<line x1="142.60" y1="300.02" x2="144.80" y2="300.02" stroke="#000" stroke-width="0.8" />
<line x1="142.60" y1="298.37" x2="144.80" y2="298.37" stroke="#000" stroke-width="0.8" />
<line x1="142.60" y1="296.97" x2="144.80" y2="296.97" stroke="#000" stroke-width="0.8" />
<line x1="142.60" y1="295.75" x2="144.80" y2="295.75" stroke="#000" stroke-width="0.8" />
<line x1="142.60" y1="294.68" x2="144.80" y2="294.68" stroke="#000" stroke-width="0.8" />
<line x1="142.60" y1="329.28" x2="144.80" y2="329.28" stroke="#000" stroke-width="0.8" />
<line x1="142.60" y1="325.59" x2="144.80" y2="325.59" stroke="#000" stroke-width="0.8" />
<line x1="142.60" y1="322.98" x2="144.80" y2="322.98" stroke="#000" stroke-width="0.8" />
<line x1="142.60" y1="320.95" x2="144.80" y2="320.95" stroke="#000" stroke-width="0.8" />
<line x1="142.60" y1="319.29" x2="144.80" y2="319.29" stroke="#000" stroke-width="0.8" />
<line x1="142.60" y1="317.89" x2="144.80" y2="317.89" stroke="#000" stroke-width="0.8" />
<line x1="142.60" y1="316.68" x2="144.80" y2="316.68" stroke="#000" stroke-width="0.8" />
<line x1="142.60" y1="315.61" x2="144.80" y2="315.61" stroke="#000" stroke-width="0.8" />
<line x1="142.60" y1="350.20" x2="144.80" y2="350.20" stroke="#000" stroke-width="0.8" />
<line x1="142.60" y1="346.52" x2="144.80" y2="346.52" stroke="#000" stroke-width="0.8" />
<line x1="142.60" y1="343.90" x2="144.80" y2="343.90" stroke="#000" stroke-width="0.8" />
<line x1="142.60" y1="341.87" x2="144.80" y2="341.87" stroke="#000" stroke-width="0.8" />
<line x1="142.60" y1="340.22" x2="144.80" y2="340.22" stroke="#000" stroke-width="0.8" />
<line x1="142.60" y1="338.82" x2="144.80" y2="338.82" stroke="#000" stroke-width="0.8" />
<line x1="142.60" y1="337.60" x2="144.80" y2="337.60" stroke="#000" stroke-width="0.8" />
<line x1="142.60" y1="336.53" x2="144.80" y2="336.53" stroke="#000" stroke-width="0.8" />
<line x1="142.20" y1="272.80" x2="144.80" y2="272.80" stroke="#000" stroke-width="1.0" />
<text x="141.00" y="275.70" font-size="5.9" text-anchor="end" fill="#000" font-weight="bold" >10<tspan font-size="4.0" dy="-2.4">6</tspan></text>
<line x1="142.20" y1="293.73" x2="144.80" y2="293.73" stroke="#000" stroke-width="1.0" />
<text x="141.00" y="296.62" font-size="5.9" text-anchor="end" fill="#000" font-weight="bold" >10<tspan font-size="4.0" dy="-2.4">5</tspan></text>
<line x1="142.20" y1="314.65" x2="144.80" y2="314.65" stroke="#000" stroke-width="1.0" />
<text x="141.00" y="317.55" font-size="5.9" text-anchor="end" fill="#000" font-weight="bold" >10<tspan font-size="4.0" dy="-2.4">4</tspan></text>
<line x1="142.20" y1="335.57" x2="144.80" y2="335.57" stroke="#000" stroke-width="1.0" />
<text x="141.00" y="338.47" font-size="5.9" text-anchor="end" fill="#000" font-weight="bold" >10<tspan font-size="4.0" dy="-2.4">3</tspan></text>
<line x1="142.20" y1="356.50" x2="144.80" y2="356.50" stroke="#000" stroke-width="1.0" />
<text x="141.00" y="359.40" font-size="5.9" text-anchor="end" fill="#000" font-weight="bold" >10<tspan font-size="4.0" dy="-2.4">2</tspan></text>
<line x1="144.10" y1="356.50" x2="221.70" y2="356.50" stroke="#000" stroke-width="1.4" />
<line x1="152.30" y1="300.60" x2="152.30" y2="305.30" stroke="#000" stroke-width="1.0" />
<line x1="150.00" y1="301.00" x2="154.60" y2="301.00" stroke="#000" stroke-width="1.0" />
<rect x="147.90" y="305.80" width="8.80" height="50.70" fill="#fff" stroke="#000" stroke-width="1.0" />
<line x1="164.90" y1="307.80" x2="164.90" y2="310.60" stroke="#000" stroke-width="1.0" />
<line x1="162.60" y1="308.20" x2="167.20" y2="308.20" stroke="#000" stroke-width="1.0" />
<rect x="160.90" y="311.10" width="8.00" height="45.40" fill="#3c3c3c" stroke="#000" stroke-width="1.0" />
<line x1="178.15" y1="303.10" x2="178.15" y2="305.30" stroke="#000" stroke-width="1.0" />
<line x1="175.85" y1="303.50" x2="180.45" y2="303.50" stroke="#000" stroke-width="1.0" />
<rect x="174.00" y="305.80" width="8.30" height="50.70" fill="#fff" stroke="#000" stroke-width="1.0" />
<line x1="191.10" y1="302.10" x2="191.10" y2="304.60" stroke="#000" stroke-width="1.0" />
<line x1="188.80" y1="302.50" x2="193.40" y2="302.50" stroke="#000" stroke-width="1.0" />
<rect x="187.10" y="305.10" width="8.00" height="51.40" fill="#3c3c3c" stroke="#000" stroke-width="1.0" />
<line x1="204.15" y1="288.60" x2="204.15" y2="290.50" stroke="#000" stroke-width="1.0" />
<line x1="201.85" y1="289.00" x2="206.45" y2="289.00" stroke="#000" stroke-width="1.0" />
<rect x="200.20" y="291.00" width="7.90" height="65.50" fill="#fff" stroke="#000" stroke-width="1.0" />
<line x1="217.20" y1="283.30" x2="217.20" y2="285.50" stroke="#000" stroke-width="1.0" />
<line x1="214.90" y1="283.70" x2="219.50" y2="283.70" stroke="#000" stroke-width="1.0" />
<rect x="213.20" y="286.00" width="8.00" height="70.50" fill="#3c3c3c" stroke="#000" stroke-width="1.0" />
<line x1="152.30" y1="356.50" x2="152.30" y2="359.10" stroke="#000" stroke-width="0.9" />
<line x1="164.80" y1="356.50" x2="164.80" y2="359.10" stroke="#000" stroke-width="0.9" />
<line x1="177.90" y1="356.50" x2="177.90" y2="359.10" stroke="#000" stroke-width="0.9" />
<line x1="190.70" y1="356.50" x2="190.70" y2="359.10" stroke="#000" stroke-width="0.9" />
<line x1="203.70" y1="356.50" x2="203.70" y2="359.10" stroke="#000" stroke-width="0.9" />
<line x1="216.80" y1="356.50" x2="216.80" y2="359.10" stroke="#000" stroke-width="0.9" />
<text x="131.00" y="313.80" font-size="6.8" text-anchor="middle" fill="#000" stroke="#000" stroke-width="0.12" font-weight="bold" textLength="79" lengthAdjust="spacingAndGlyphs" transform="rotate(-90 131.00 313.80)" ># of human myeloid cells</text>
<line x1="146.90" y1="361.90" x2="169.40" y2="361.90" stroke="#000" stroke-width="1.5" />
<line x1="174.30" y1="361.90" x2="196.40" y2="361.90" stroke="#000" stroke-width="1.5" />
<line x1="198.80" y1="361.90" x2="221.70" y2="361.90" stroke="#000" stroke-width="1.5" />
<text x="157.95" y="369.30" font-size="6.8" text-anchor="middle" fill="#222" stroke="#222" stroke-width="0.1" textLength="13.9" lengthAdjust="spacingAndGlyphs" >Liver</text>
<text x="185.60" y="369.30" font-size="6.8" text-anchor="middle" fill="#222" stroke="#222" stroke-width="0.1" textLength="19.2" lengthAdjust="spacingAndGlyphs" >Spleen</text>
<text x="209.50" y="369.30" font-size="6.8" text-anchor="middle" fill="#222" stroke="#222" stroke-width="0.1" textLength="9.0" lengthAdjust="spacingAndGlyphs" >BM</text>
<rect x="229.50" y="151.50" width="10.60" height="6.00" fill="#3a3a3a" stroke="#000" stroke-width="1.0" />
<rect x="229.50" y="161.80" width="10.60" height="6.00" fill="#fff" stroke="#000" stroke-width="1.0" />
<text x="245.20" y="157.20" font-size="7.6" text-anchor="start" fill="#000" stroke="#000" stroke-width="0.15" textLength="33.5" lengthAdjust="spacingAndGlyphs" >HIS SGM3</text>
<text x="245.20" y="167.70" font-size="7.6" text-anchor="start" fill="#000" stroke="#000" stroke-width="0.15" textLength="11.2" lengthAdjust="spacingAndGlyphs" >HIS</text>
<text x="286.50" y="186.70" font-size="12" text-anchor="start" fill="#000" font-weight="bold" >E</text>
<text x="340.20" y="184.00" font-size="9.0" text-anchor="middle" fill="#000" stroke="#000" stroke-width="0.12" textLength="13.4" lengthAdjust="spacingAndGlyphs" >HIS</text>
<text x="447.30" y="184.40" font-size="9.4" text-anchor="start" fill="#000" stroke="#000" stroke-width="0.12" textLength="40.4" lengthAdjust="spacingAndGlyphs" >HIS SGM3</text>
<text x="312.40" y="204.30" font-size="8.2" text-anchor="middle" fill="#000" textLength="10.5" lengthAdjust="spacingAndGlyphs" >BM</text>
<text x="372.10" y="204.30" font-size="8.2" text-anchor="middle" fill="#000" textLength="22.6" lengthAdjust="spacingAndGlyphs" >Spleen</text>
<text x="428.60" y="204.30" font-size="8.2" text-anchor="middle" fill="#000" textLength="10.8" lengthAdjust="spacingAndGlyphs" >BM</text>
<text x="488.30" y="204.30" font-size="8.2" text-anchor="middle" fill="#000" textLength="22.0" lengthAdjust="spacingAndGlyphs" >Spleen</text>
<defs><filter id="gr" x="0" y="0" width="520" height="372" filterUnits="userSpaceOnUse" color-interpolation-filters="sRGB"><feGaussianBlur in="SourceGraphic" stdDeviation="1.5" result="d"/><feTurbulence type="fractalNoise" baseFrequency="1.7" numOctaves="1" seed="4" result="n"/><feColorMatrix in="n" type="matrix" values="0 0 0 0 0  0 0 0 0 0  0 0 0 0 0  3.2 0 0 0 -1.1" result="na"/><feComposite in="d" in2="na" operator="arithmetic" k1="0" k2="0.92" k3="-0.22" k4="-0.05" result="c"/><feComponentTransfer in="c"><feFuncA type="linear" slope="2.0" intercept="0"/></feComponentTransfer><feGaussianBlur stdDeviation="0.4"/></filter></defs>
<clipPath id="cp0"><rect x="293.9" y="211.3" width="48.60" height="48.30"/></clipPath>
<g clip-path="url(#cp0)"><g filter="url(#gr)">
<rect x="290" y="223.5" width="16.00" height="10.00" rx="1.5" fill-opacity="0.72"/>
<linearGradient id="lg0_0" x1="0" y1="0" x2="1" y2="0"><stop offset="0" stop-opacity="0.62"/><stop offset="1" stop-opacity="0.15"/></linearGradient>
<rect x="306" y="223.5" width="16.00" height="10.00" rx="1.5" fill="url(#lg0_0)"/>
<rect x="290" y="233.5" width="22.00" height="2.90" rx="1.5" fill-opacity="0.43"/>
<linearGradient id="lg0_1" x1="0" y1="0" x2="1" y2="0"><stop offset="0" stop-opacity="0.5"/><stop offset="1" stop-opacity="0.36"/></linearGradient>
<rect x="290" y="236.4" width="22.00" height="23.60" rx="1.5" fill="url(#lg0_1)"/>
<ellipse cx="325" cy="245" rx="7" ry="7" fill-opacity="0.16"/>
</g></g>
<rect x="293.9" y="211.3" width="48.60" height="48.30" fill="none" stroke="#9a9a9a" stroke-width="0.8"/>
<line x1="312.50" y1="211.30" x2="312.50" y2="259.60" stroke="#999" stroke-width="0.8" />
<line x1="293.90" y1="236.40" x2="342.50" y2="236.40" stroke="#999" stroke-width="0.8" />
<rect x="294.29999999999995" y="254.8" width="10.2" height="4.4" fill="#fff"/>
<text x="294.50" y="215.90" font-size="4.4" text-anchor="start" fill="#444" >53.8</text>
<text x="341.90" y="215.90" font-size="4.4" text-anchor="end" fill="#444" >4.33</text>
<text x="294.50" y="258.80" font-size="4.4" text-anchor="start" fill="#444" >39.6</text>
<text x="341.90" y="258.80" font-size="4.4" text-anchor="end" fill="#444" >2.24</text>
<text x="292.90" y="256.60" font-size="2.8" text-anchor="end" fill="#888" >10<tspan font-size="2" dy="-1.2">2</tspan></text>
<text x="292.90" y="244.16" font-size="2.8" text-anchor="end" fill="#888" >10<tspan font-size="2" dy="-1.2">3</tspan></text>
<text x="292.90" y="231.72" font-size="2.8" text-anchor="end" fill="#888" >10<tspan font-size="2" dy="-1.2">4</tspan></text>
<text x="292.90" y="219.28" font-size="2.8" text-anchor="end" fill="#888" >10<tspan font-size="2" dy="-1.2">5</tspan></text>
<text x="300.90" y="263.60" font-size="2.8" text-anchor="middle" fill="#888" >10<tspan font-size="2" dy="-1.2">2</tspan></text>
<text x="312.60" y="263.60" font-size="2.8" text-anchor="middle" fill="#888" >10<tspan font-size="2" dy="-1.2">3</tspan></text>
<text x="324.29" y="263.60" font-size="2.8" text-anchor="middle" fill="#888" >10<tspan font-size="2" dy="-1.2">4</tspan></text>
<text x="335.99" y="263.60" font-size="2.8" text-anchor="middle" fill="#888" >10<tspan font-size="2" dy="-1.2">5</tspan></text>
<clipPath id="cp1"><rect x="350.5" y="211.3" width="48.30" height="48.40"/></clipPath>
<g clip-path="url(#cp1)"><g filter="url(#gr)">
<rect x="347" y="224.5" width="19.00" height="13.50" rx="1.5" fill-opacity="0.8"/>
<ellipse cx="366" cy="232" rx="5" ry="6" fill-opacity="0.6"/>
<linearGradient id="lg1_2" x1="0" y1="0" x2="1" y2="0"><stop offset="0" stop-opacity="0.55"/><stop offset="1" stop-opacity="0.2"/></linearGradient>
<rect x="366" y="226" width="11.00" height="12.00" rx="1.5" fill="url(#lg1_2)"/>
<linearGradient id="lg1_3" x1="0" y1="0" x2="1" y2="0"><stop offset="0" stop-opacity="0.48"/><stop offset="1" stop-opacity="0.24"/></linearGradient>
<rect x="347" y="238" width="27.00" height="24.00" rx="1.5" fill="url(#lg1_3)"/>
<ellipse cx="382" cy="249" rx="4" ry="11" fill-opacity="0.85"/>
<ellipse cx="381.5" cy="235" rx="2.8" ry="6" fill-opacity="0.35"/>
</g></g>
<rect x="350.5" y="211.3" width="48.30" height="48.40" fill="none" stroke="#9a9a9a" stroke-width="0.8"/>
<line x1="374.50" y1="211.30" x2="374.50" y2="259.70" stroke="#999" stroke-width="0.8" />
<line x1="350.50" y1="236.80" x2="398.80" y2="236.80" stroke="#999" stroke-width="0.8" />
<rect x="350.9" y="254.89999999999998" width="10.2" height="4.4" fill="#fff"/>
<text x="351.10" y="215.90" font-size="4.4" text-anchor="start" fill="#444" >75.2</text>
<text x="398.20" y="215.90" font-size="4.4" text-anchor="end" fill="#444" >1.57</text>
<text x="351.10" y="258.90" font-size="4.4" text-anchor="start" fill="#444" >9.13</text>
<text x="398.20" y="258.90" font-size="4.4" text-anchor="end" fill="#444" >14.1</text>
<text x="349.50" y="256.70" font-size="2.8" text-anchor="end" fill="#888" >10<tspan font-size="2" dy="-1.2">2</tspan></text>
<text x="349.50" y="244.23" font-size="2.8" text-anchor="end" fill="#888" >10<tspan font-size="2" dy="-1.2">3</tspan></text>
<text x="349.50" y="231.76" font-size="2.8" text-anchor="end" fill="#888" >10<tspan font-size="2" dy="-1.2">4</tspan></text>
<text x="349.50" y="219.29" font-size="2.8" text-anchor="end" fill="#888" >10<tspan font-size="2" dy="-1.2">5</tspan></text>
<text x="357.50" y="263.70" font-size="2.8" text-anchor="middle" fill="#888" >10<tspan font-size="2" dy="-1.2">2</tspan></text>
<text x="369.11" y="263.70" font-size="2.8" text-anchor="middle" fill="#888" >10<tspan font-size="2" dy="-1.2">3</tspan></text>
<text x="380.71" y="263.70" font-size="2.8" text-anchor="middle" fill="#888" >10<tspan font-size="2" dy="-1.2">4</tspan></text>
<text x="392.32" y="263.70" font-size="2.8" text-anchor="middle" fill="#888" >10<tspan font-size="2" dy="-1.2">5</tspan></text>
<clipPath id="cp2"><rect x="411.5" y="211.4" width="48.30" height="48.20"/></clipPath>
<g clip-path="url(#cp2)"><g filter="url(#gr)">
<linearGradient id="lg2_4" x1="0" y1="0" x2="1" y2="0"><stop offset="0" stop-opacity="0.78"/><stop offset="1" stop-opacity="0.45"/></linearGradient>
<rect x="408" y="222.5" width="24.00" height="9.50" rx="1.5" fill="url(#lg2_4)"/>
<rect x="408" y="232" width="23.00" height="5.00" rx="1.5" fill-opacity="0.3"/>
<linearGradient id="lg2_5" x1="0" y1="0" x2="1" y2="0"><stop offset="0" stop-opacity="0.66"/><stop offset="1" stop-opacity="0.45"/></linearGradient>
<rect x="408" y="238" width="23.00" height="12.00" rx="1.5" fill="url(#lg2_5)"/>
<linearGradient id="lg2_6" x1="0" y1="0" x2="1" y2="0"><stop offset="0" stop-opacity="0.42"/><stop offset="1" stop-opacity="0.3"/></linearGradient>
<rect x="408" y="250" width="23.00" height="12.00" rx="1.5" fill="url(#lg2_6)"/>
<ellipse cx="438" cy="229" rx="8" ry="6" fill-opacity="0.2"/>
<rect x="431" y="238" width="7.00" height="24.00" rx="1.5" fill-opacity="0.18"/>
<ellipse cx="441.6" cy="248" rx="3.8" ry="11.5" fill-opacity="0.7"/>
</g></g>
<rect x="411.5" y="211.4" width="48.30" height="48.20" fill="none" stroke="#9a9a9a" stroke-width="0.8"/>
<line x1="430.60" y1="211.40" x2="430.60" y2="259.60" stroke="#999" stroke-width="0.8" />
<line x1="411.50" y1="236.80" x2="459.80" y2="236.80" stroke="#999" stroke-width="0.8" />
<rect x="411.9" y="254.8" width="10.2" height="4.4" fill="#fff"/>
<text x="412.10" y="216.00" font-size="4.4" text-anchor="start" fill="#444" >27.5</text>
<text x="459.20" y="216.00" font-size="4.4" text-anchor="end" fill="#444" >2.98</text>
<text x="412.10" y="258.80" font-size="4.4" text-anchor="start" fill="#444" >45.6</text>
<text x="459.20" y="258.80" font-size="4.4" text-anchor="end" fill="#444" >24.2</text>
<text x="410.50" y="256.60" font-size="2.8" text-anchor="end" fill="#888" >10<tspan font-size="2" dy="-1.2">2</tspan></text>
<text x="410.50" y="244.19" font-size="2.8" text-anchor="end" fill="#888" >10<tspan font-size="2" dy="-1.2">3</tspan></text>
<text x="410.50" y="231.78" font-size="2.8" text-anchor="end" fill="#888" >10<tspan font-size="2" dy="-1.2">4</tspan></text>
<text x="410.50" y="219.36" font-size="2.8" text-anchor="end" fill="#888" >10<tspan font-size="2" dy="-1.2">5</tspan></text>
<text x="418.50" y="263.60" font-size="2.8" text-anchor="middle" fill="#888" >10<tspan font-size="2" dy="-1.2">2</tspan></text>
<text x="430.11" y="263.60" font-size="2.8" text-anchor="middle" fill="#888" >10<tspan font-size="2" dy="-1.2">3</tspan></text>
<text x="441.71" y="263.60" font-size="2.8" text-anchor="middle" fill="#888" >10<tspan font-size="2" dy="-1.2">4</tspan></text>
<text x="453.32" y="263.60" font-size="2.8" text-anchor="middle" fill="#888" >10<tspan font-size="2" dy="-1.2">5</tspan></text>
<clipPath id="cp3"><rect x="469.5" y="211.5" width="48.90" height="48.10"/></clipPath>
<g clip-path="url(#cp3)"><g filter="url(#gr)">
<rect x="466" y="224.5" width="21.00" height="10.50" rx="1.5" fill-opacity="0.68"/>
<linearGradient id="lg3_7" x1="0" y1="0" x2="1" y2="0"><stop offset="0" stop-opacity="0.55"/><stop offset="1" stop-opacity="0.2"/></linearGradient>
<rect x="487" y="224.5" width="8.00" height="10.50" rx="1.5" fill="url(#lg3_7)"/>
<linearGradient id="lg3_8" x1="0" y1="0" x2="1" y2="0"><stop offset="0" stop-opacity="0.35"/><stop offset="1" stop-opacity="0.26"/></linearGradient>
<rect x="466" y="237.8" width="27.00" height="24.20" rx="1.5" fill="url(#lg3_8)"/>
<rect x="495.5" y="238" width="9.00" height="24.00" rx="1.5" fill-opacity="0.82"/>
<ellipse cx="499" cy="232" rx="4" ry="5" fill-opacity="0.22"/>
</g></g>
<rect x="469.5" y="211.5" width="48.90" height="48.10" fill="none" stroke="#9a9a9a" stroke-width="0.8"/>
<line x1="493.90" y1="211.50" x2="493.90" y2="259.60" stroke="#999" stroke-width="0.8" />
<line x1="469.50" y1="237.80" x2="518.40" y2="237.80" stroke="#999" stroke-width="0.8" />
<rect x="469.9" y="254.8" width="10.2" height="4.4" fill="#fff"/>
<text x="470.10" y="216.10" font-size="4.4" text-anchor="start" fill="#444" >31.4</text>
<text x="517.80" y="216.10" font-size="4.4" text-anchor="end" fill="#444" >1.71</text>
<text x="470.10" y="258.80" font-size="4.4" text-anchor="start" fill="#444" >13.1</text>
<text x="517.80" y="258.80" font-size="4.4" text-anchor="end" fill="#444" >53.8</text>
<text x="468.50" y="256.60" font-size="2.8" text-anchor="end" fill="#888" >10<tspan font-size="2" dy="-1.2">2</tspan></text>
<text x="468.50" y="244.22" font-size="2.8" text-anchor="end" fill="#888" >10<tspan font-size="2" dy="-1.2">3</tspan></text>
<text x="468.50" y="231.84" font-size="2.8" text-anchor="end" fill="#888" >10<tspan font-size="2" dy="-1.2">4</tspan></text>
<text x="468.50" y="219.45" font-size="2.8" text-anchor="end" fill="#888" >10<tspan font-size="2" dy="-1.2">5</tspan></text>
<text x="476.50" y="263.60" font-size="2.8" text-anchor="middle" fill="#888" >10<tspan font-size="2" dy="-1.2">2</tspan></text>
<text x="488.29" y="263.60" font-size="2.8" text-anchor="middle" fill="#888" >10<tspan font-size="2" dy="-1.2">3</tspan></text>
<text x="500.08" y="263.60" font-size="2.8" text-anchor="middle" fill="#888" >10<tspan font-size="2" dy="-1.2">4</tspan></text>
<text x="511.86" y="263.60" font-size="2.8" text-anchor="middle" fill="#888" >10<tspan font-size="2" dy="-1.2">5</tspan></text>
<clipPath id="cp4"><rect x="293.5" y="269.0" width="48.90" height="47.80"/></clipPath>
<g clip-path="url(#cp4)"><g filter="url(#gr)">
<linearGradient id="lg4_9" x1="0" y1="0" x2="1" y2="0"><stop offset="0" stop-opacity="0.76"/><stop offset="1" stop-opacity="0.6"/></linearGradient>
<rect x="290" y="285.5" width="24.00" height="5.70" rx="1.5" fill="url(#lg4_9)"/>
<linearGradient id="lg4_10" x1="0" y1="0" x2="1" y2="0"><stop offset="0" stop-opacity="0.4"/><stop offset="1" stop-opacity="0.3"/></linearGradient>
<rect x="290" y="293.8" width="25.00" height="26.20" rx="1.5" fill="url(#lg4_10)"/>
<ellipse cx="323" cy="305" rx="8" ry="9" fill-opacity="0.1"/>
</g></g>
<rect x="293.5" y="269.0" width="48.90" height="47.80" fill="none" stroke="#9a9a9a" stroke-width="0.8"/>
<line x1="314.90" y1="269.00" x2="314.90" y2="316.80" stroke="#999" stroke-width="0.8" />
<line x1="293.50" y1="294.20" x2="342.40" y2="294.20" stroke="#999" stroke-width="0.8" />
<rect x="293.9" y="312.0" width="10.2" height="4.4" fill="#fff"/>
<text x="294.10" y="273.60" font-size="4.4" text-anchor="start" fill="#444" >16.3</text>
<text x="341.80" y="273.60" font-size="4.4" text-anchor="end" fill="#444" >0.13</text>
<text x="294.10" y="316.00" font-size="4.4" text-anchor="start" fill="#444" >78.7</text>
<text x="341.80" y="316.00" font-size="4.4" text-anchor="end" fill="#444" >4.86</text>
<text x="292.50" y="313.80" font-size="2.8" text-anchor="end" fill="#888" >10<tspan font-size="2" dy="-1.2">2</tspan></text>
<text x="292.50" y="301.51" font-size="2.8" text-anchor="end" fill="#888" >10<tspan font-size="2" dy="-1.2">3</tspan></text>
<text x="292.50" y="289.21" font-size="2.8" text-anchor="end" fill="#888" >10<tspan font-size="2" dy="-1.2">4</tspan></text>
<text x="292.50" y="276.92" font-size="2.8" text-anchor="end" fill="#888" >10<tspan font-size="2" dy="-1.2">5</tspan></text>
<text x="300.50" y="320.80" font-size="2.8" text-anchor="middle" fill="#888" >10<tspan font-size="2" dy="-1.2">2</tspan></text>
<text x="312.29" y="320.80" font-size="2.8" text-anchor="middle" fill="#888" >10<tspan font-size="2" dy="-1.2">3</tspan></text>
<text x="324.08" y="320.80" font-size="2.8" text-anchor="middle" fill="#888" >10<tspan font-size="2" dy="-1.2">4</tspan></text>
<text x="335.86" y="320.80" font-size="2.8" text-anchor="middle" fill="#888" >10<tspan font-size="2" dy="-1.2">5</tspan></text>
<clipPath id="cp5"><rect x="350.5" y="269.0" width="48.30" height="47.80"/></clipPath>
<g clip-path="url(#cp5)"><g filter="url(#gr)">
<rect x="347" y="294.5" width="18.00" height="25.50" rx="1.5" fill-opacity="0.8"/>
<linearGradient id="lg5_11" x1="0" y1="0" x2="1" y2="0"><stop offset="0" stop-opacity="0.6"/><stop offset="1" stop-opacity="0.28"/></linearGradient>
<rect x="365" y="294.5" width="15.00" height="25.50" rx="1.5" fill="url(#lg5_11)"/>
<rect x="380" y="295" width="5.50" height="25.00" rx="1.5" fill-opacity="0.74"/>
<rect x="350" y="286.5" width="20.00" height="7.80" rx="1.5" fill-opacity="0.22"/>
</g></g>
<rect x="350.5" y="269.0" width="48.30" height="47.80" fill="none" stroke="#9a9a9a" stroke-width="0.8"/>
<line x1="371.90" y1="269.00" x2="371.90" y2="316.80" stroke="#999" stroke-width="0.8" />
<line x1="350.50" y1="294.80" x2="398.80" y2="294.80" stroke="#999" stroke-width="0.8" />
<rect x="350.9" y="312.0" width="10.2" height="4.4" fill="#fff"/>
<text x="351.10" y="273.60" font-size="4.4" text-anchor="start" fill="#444" >0.87</text>
<text x="398.20" y="273.60" font-size="4.4" text-anchor="end" fill="#444" >0.038</text>
<text x="351.10" y="316.00" font-size="4.4" text-anchor="start" fill="#444" >82.8</text>
<text x="398.20" y="316.00" font-size="4.4" text-anchor="end" fill="#444" >16.3</text>
<text x="349.50" y="313.80" font-size="2.8" text-anchor="end" fill="#888" >10<tspan font-size="2" dy="-1.2">2</tspan></text>
<text x="349.50" y="301.51" font-size="2.8" text-anchor="end" fill="#888" >10<tspan font-size="2" dy="-1.2">3</tspan></text>
<text x="349.50" y="289.21" font-size="2.8" text-anchor="end" fill="#888" >10<tspan font-size="2" dy="-1.2">4</tspan></text>
<text x="349.50" y="276.92" font-size="2.8" text-anchor="end" fill="#888" >10<tspan font-size="2" dy="-1.2">5</tspan></text>
<text x="357.50" y="320.80" font-size="2.8" text-anchor="middle" fill="#888" >10<tspan font-size="2" dy="-1.2">2</tspan></text>
<text x="369.11" y="320.80" font-size="2.8" text-anchor="middle" fill="#888" >10<tspan font-size="2" dy="-1.2">3</tspan></text>
<text x="380.71" y="320.80" font-size="2.8" text-anchor="middle" fill="#888" >10<tspan font-size="2" dy="-1.2">4</tspan></text>
<text x="392.32" y="320.80" font-size="2.8" text-anchor="middle" fill="#888" >10<tspan font-size="2" dy="-1.2">5</tspan></text>
<clipPath id="cp6"><rect x="411.3" y="269.0" width="48.50" height="47.80"/></clipPath>
<g clip-path="url(#cp6)"><g filter="url(#gr)">
<linearGradient id="lg6_12" x1="0" y1="0" x2="1" y2="0"><stop offset="0" stop-opacity="0.84"/><stop offset="1" stop-opacity="0.62"/></linearGradient>
<rect x="408" y="285" width="24.00" height="7.00" rx="1.5" fill="url(#lg6_12)"/>
<linearGradient id="lg6_13" x1="0" y1="0" x2="0" y2="1"><stop offset="0" stop-opacity="0.55"/><stop offset="1" stop-opacity="0.33"/></linearGradient>
<rect x="408" y="292" width="24.00" height="28.00" rx="1.5" fill="url(#lg6_13)"/>
<linearGradient id="lg6_14" x1="0" y1="0" x2="1" y2="0"><stop offset="0" stop-opacity="0.18"/><stop offset="1" stop-opacity="0.0"/></linearGradient>
<rect x="408" y="292" width="24.00" height="28.00" rx="1.5" fill="url(#lg6_14)"/>
<rect x="438.5" y="296" width="7.00" height="24.00" rx="1.5" fill-opacity="0.5"/>
</g></g>
<rect x="411.3" y="269.0" width="48.50" height="47.80" fill="none" stroke="#9a9a9a" stroke-width="0.8"/>
<line x1="432.50" y1="269.00" x2="432.50" y2="316.80" stroke="#999" stroke-width="0.8" />
<line x1="411.30" y1="294.40" x2="459.80" y2="294.40" stroke="#999" stroke-width="0.8" />
<rect x="411.7" y="312.0" width="10.2" height="4.4" fill="#fff"/>
<text x="411.90" y="273.60" font-size="4.4" text-anchor="start" fill="#444" >27.7</text>
<text x="459.20" y="273.60" font-size="4.4" text-anchor="end" fill="#444" >0.55</text>
<text x="411.90" y="316.00" font-size="4.4" text-anchor="start" fill="#444" >46.2</text>
<text x="459.20" y="316.00" font-size="4.4" text-anchor="end" fill="#444" >25.5</text>
<text x="410.30" y="313.80" font-size="2.8" text-anchor="end" fill="#888" >10<tspan font-size="2" dy="-1.2">2</tspan></text>
<text x="410.30" y="301.51" font-size="2.8" text-anchor="end" fill="#888" >10<tspan font-size="2" dy="-1.2">3</tspan></text>
<text x="410.30" y="289.21" font-size="2.8" text-anchor="end" fill="#888" >10<tspan font-size="2" dy="-1.2">4</tspan></text>
<text x="410.30" y="276.92" font-size="2.8" text-anchor="end" fill="#888" >10<tspan font-size="2" dy="-1.2">5</tspan></text>
<text x="418.30" y="320.80" font-size="2.8" text-anchor="middle" fill="#888" >10<tspan font-size="2" dy="-1.2">2</tspan></text>
<text x="429.97" y="320.80" font-size="2.8" text-anchor="middle" fill="#888" >10<tspan font-size="2" dy="-1.2">3</tspan></text>
<text x="441.63" y="320.80" font-size="2.8" text-anchor="middle" fill="#888" >10<tspan font-size="2" dy="-1.2">4</tspan></text>
<text x="453.30" y="320.80" font-size="2.8" text-anchor="middle" fill="#888" >10<tspan font-size="2" dy="-1.2">5</tspan></text>
<clipPath id="cp7"><rect x="470.0" y="269.2" width="48.40" height="47.60"/></clipPath>
<g clip-path="url(#cp7)"><g filter="url(#gr)">
<rect x="466" y="288" width="25.00" height="6.90" rx="1.5" fill-opacity="0.28"/>
<linearGradient id="lg7_15" x1="0" y1="0" x2="1" y2="0"><stop offset="0" stop-opacity="0.56"/><stop offset="1" stop-opacity="0.36"/></linearGradient>
<rect x="466" y="295.3" width="27.00" height="24.70" rx="1.5" fill="url(#lg7_15)"/>
<ellipse cx="478" cy="302" rx="8" ry="6" fill-opacity="0.28"/>
<rect x="495.5" y="297.5" width="8.50" height="22.50" rx="1.5" fill-opacity="0.85"/>
</g></g>
<rect x="470.0" y="269.2" width="48.40" height="47.60" fill="none" stroke="#9a9a9a" stroke-width="0.8"/>
<line x1="492.50" y1="269.20" x2="492.50" y2="316.80" stroke="#999" stroke-width="0.8" />
<line x1="470.00" y1="295.30" x2="518.40" y2="295.30" stroke="#999" stroke-width="0.8" />
<rect x="470.4" y="312.0" width="10.2" height="4.4" fill="#fff"/>
<text x="470.60" y="273.80" font-size="4.4" text-anchor="start" fill="#444" >2.97</text>
<text x="517.80" y="273.80" font-size="4.4" text-anchor="end" fill="#444" >0.11</text>
<text x="470.60" y="316.00" font-size="4.4" text-anchor="start" fill="#444" >41.4</text>
<text x="517.80" y="316.00" font-size="4.4" text-anchor="end" fill="#444" >55.5</text>
<text x="469.00" y="313.80" font-size="2.8" text-anchor="end" fill="#888" >10<tspan font-size="2" dy="-1.2">2</tspan></text>
<text x="469.00" y="301.56" font-size="2.8" text-anchor="end" fill="#888" >10<tspan font-size="2" dy="-1.2">3</tspan></text>
<text x="469.00" y="289.33" font-size="2.8" text-anchor="end" fill="#888" >10<tspan font-size="2" dy="-1.2">4</tspan></text>
<text x="469.00" y="277.09" font-size="2.8" text-anchor="end" fill="#888" >10<tspan font-size="2" dy="-1.2">5</tspan></text>
<text x="477.00" y="320.80" font-size="2.8" text-anchor="middle" fill="#888" >10<tspan font-size="2" dy="-1.2">2</tspan></text>
<text x="488.64" y="320.80" font-size="2.8" text-anchor="middle" fill="#888" >10<tspan font-size="2" dy="-1.2">3</tspan></text>
<text x="500.27" y="320.80" font-size="2.8" text-anchor="middle" fill="#888" >10<tspan font-size="2" dy="-1.2">4</tspan></text>
<text x="511.91" y="320.80" font-size="2.8" text-anchor="middle" fill="#888" >10<tspan font-size="2" dy="-1.2">5</tspan></text>
<line x1="284.00" y1="215.00" x2="284.00" y2="327.60" stroke="#000" stroke-width="1.6" />
<line x1="283.20" y1="327.60" x2="313.00" y2="327.60" stroke="#000" stroke-width="1.6" />
<path d="M284 211.5 L281.2 218 L286.8 218 Z" fill="#000"/>
<path d="M317 327.6 L310.5 324.8 L310.5 330.4 Z" fill="#000"/>
<text x="275.00" y="236.50" font-size="8.0" text-anchor="middle" fill="#000" stroke="#000" stroke-width="0.12" textLength="17.4" lengthAdjust="spacingAndGlyphs" transform="rotate(-90 275.00 236.50)" >CD19</text>
<text x="275.30" y="310.50" font-size="8.0" text-anchor="middle" fill="#000" stroke="#000" stroke-width="0.12" textLength="16.2" lengthAdjust="spacingAndGlyphs" transform="rotate(-90 275.30 310.50)" >CD33</text>
<text x="297.50" y="336.50" font-size="8.2" text-anchor="middle" fill="#000" stroke="#000" stroke-width="0.12" textLength="12.5" lengthAdjust="spacingAndGlyphs" >CD3</text>
</svg></body></html>
